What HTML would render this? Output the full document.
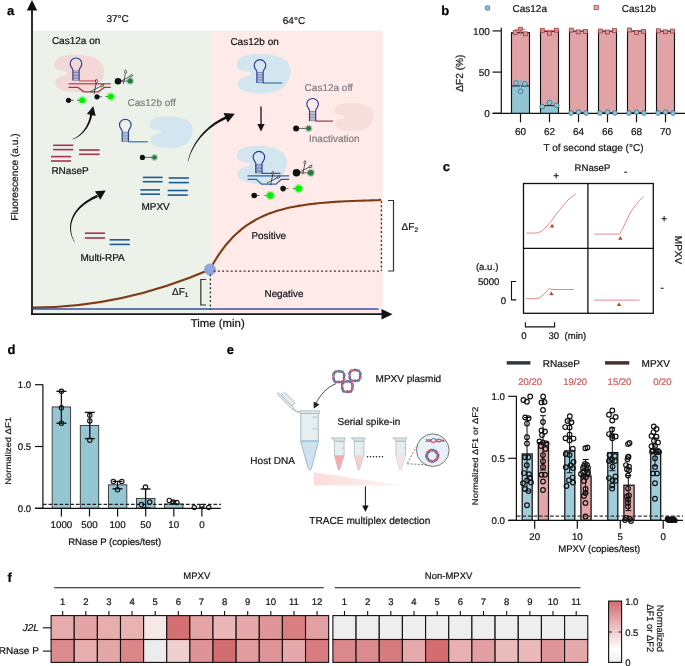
<!DOCTYPE html>
<html><head><meta charset="utf-8"><style>
html,body{margin:0;padding:0;background:#fff;width:685px;height:666px;overflow:hidden}
svg{display:block;will-change:transform;text-rendering:geometricPrecision}
text{font-family:"Liberation Sans",sans-serif}
</style></head><body>
<svg width="685" height="666" viewBox="0 0 685 666">
<rect x="33" y="30.6" width="178" height="282.6" fill="#ecf1ea" stroke="none" stroke-width="1" />
<rect x="211" y="30.6" width="171.7" height="282.6" fill="#feebe9" stroke="none" stroke-width="1" />
<path d="M0.2,0.03 C0.45,-0.02 0.8,-0.01 0.95,0.22 C1.04,0.4 1.0,0.7 0.85,0.86 C0.68,1.02 0.35,1.03 0.15,0.93 C0.02,0.85 0.0,0.72 0.08,0.62 C0.14,0.55 0.28,0.56 0.27,0.48 C0.26,0.41 0.1,0.45 0.04,0.37 C-0.02,0.27 0.02,0.08 0.2,0.03 Z" transform="translate(53.4,54.6) scale(50.800000000000004,37.9)" fill="#f4d8d5" opacity="1"/>
<path d="M72.90,80.60 V70.20 C72.90,68.40 70.20,67.00 70.20,63.80 A5.8,5.8 0 0 1 81.80,63.80 C81.80,67.00 79.10,68.40 79.10,70.20 V80.60" fill="none" stroke="#2b3d8f" stroke-width="1.15" />
<line x1="72.9" y1="71.0" x2="79.1" y2="71.0" stroke="#2b3d8f" stroke-width="0.55" />
<line x1="72.9" y1="72.53333333333333" x2="79.1" y2="72.53333333333333" stroke="#2b3d8f" stroke-width="0.55" />
<line x1="72.9" y1="74.06666666666666" x2="79.1" y2="74.06666666666666" stroke="#2b3d8f" stroke-width="0.55" />
<line x1="72.9" y1="75.6" x2="79.1" y2="75.6" stroke="#2b3d8f" stroke-width="0.55" />
<line x1="72.9" y1="77.13333333333333" x2="79.1" y2="77.13333333333333" stroke="#2b3d8f" stroke-width="0.55" />
<line x1="72.9" y1="78.66666666666666" x2="79.1" y2="78.66666666666666" stroke="#2b3d8f" stroke-width="0.55" />
<line x1="72.9" y1="80.19999999999999" x2="79.1" y2="80.19999999999999" stroke="#2b3d8f" stroke-width="0.55" />
<line x1="79" y1="80.9" x2="96" y2="80.9" stroke="#cf6473" stroke-width="1.3" />
<line x1="68.5" y1="83.8" x2="110.8" y2="83.8" stroke="#c9586c" stroke-width="1.4" />
<path d="M68.5,87.4 H78 L83.8,91.8 H98.4 L104.2,87.4 H110.8" fill="none" stroke="#a6344e" stroke-width="1.3" />
<g transform="translate(95.2,88.6) rotate(0) scale(1.0)" stroke="#222" fill="none" stroke-width="0.75"><line x1="1.0" y1="-5.6" x2="-1.1" y2="5.5"/><line x1="5.4" y1="-2.3" x2="-5.2" y2="3.3"/><ellipse cx="1.2" cy="-7.4" rx="0.95" ry="1.8" fill="#fff" fill-opacity="0.5"/><ellipse cx="7.1" cy="-3.1" rx="1.8" ry="1.0" transform="rotate(-28 7.1 -3.1)" fill="#fff" fill-opacity="0.5"/></g>
<line x1="68.5" y1="100.3" x2="73.69999999999999" y2="100.3" stroke="#444" stroke-width="0.8" />
<line x1="76.9" y1="100.3" x2="82.3" y2="100.3" stroke="#444" stroke-width="0.8" />
<circle cx="82.3" cy="100.3" r="4.4" fill="#00ee00" stroke="none" stroke-width="1" opacity="0.3"/>
<circle cx="82.3" cy="100.3" r="2.8" fill="#00ee00" stroke="none" stroke-width="1" />
<circle cx="68.5" cy="100.3" r="2.6" fill="#111" stroke="none" stroke-width="1" />
<line x1="97" y1="96.8" x2="102.19999999999999" y2="96.8" stroke="#444" stroke-width="0.8" />
<line x1="105.4" y1="96.6" x2="110.8" y2="96.6" stroke="#444" stroke-width="0.8" />
<circle cx="110.8" cy="96.6" r="4.4" fill="#00ee00" stroke="none" stroke-width="1" opacity="0.3"/>
<circle cx="110.8" cy="96.6" r="2.8" fill="#00ee00" stroke="none" stroke-width="1" />
<circle cx="97" cy="96.8" r="2.6" fill="#111" stroke="none" stroke-width="1" />
<line x1="118" y1="81.3" x2="130.2" y2="81" stroke="#555" stroke-width="0.9" />
<circle cx="130.2" cy="81" r="3.7" fill="#1f7a3c" stroke="none" stroke-width="1" opacity="0.3"/>
<circle cx="130.2" cy="81" r="2.5" fill="#1f7a3c" stroke="none" stroke-width="1" />
<circle cx="118" cy="81.3" r="3.3" fill="#111" stroke="none" stroke-width="1" />
<g transform="translate(124.4,78.8) rotate(0) scale(0.95)" stroke="#222" fill="none" stroke-width="0.75"><line x1="1.0" y1="-5.6" x2="-1.1" y2="5.5"/><line x1="5.4" y1="-2.3" x2="-5.2" y2="3.3"/><ellipse cx="1.2" cy="-7.4" rx="0.95" ry="1.8" fill="#fff" fill-opacity="0.5"/><ellipse cx="7.1" cy="-3.1" rx="1.8" ry="1.0" transform="rotate(-28 7.1 -3.1)" fill="#fff" fill-opacity="0.5"/></g>
<path d="M0.2,0.03 C0.45,-0.02 0.8,-0.01 0.95,0.22 C1.04,0.4 1.0,0.7 0.85,0.86 C0.68,1.02 0.35,1.03 0.15,0.93 C0.02,0.85 0.0,0.72 0.08,0.62 C0.14,0.55 0.28,0.56 0.27,0.48 C0.26,0.41 0.1,0.45 0.04,0.37 C-0.02,0.27 0.02,0.08 0.2,0.03 Z" transform="translate(149.1,116.3) scale(43.80000000000001,31.799999999999997)" fill="#d3e6ef" opacity="1"/>
<path d="M122.20,141.80 V131.40 C122.20,129.60 119.50,128.20 119.50,125.00 A5.8,5.8 0 0 1 131.10,125.00 C131.10,128.20 128.40,129.60 128.40,131.40 V141.80" fill="none" stroke="#2b3d8f" stroke-width="1.15" />
<line x1="122.2" y1="132.20000000000002" x2="128.4" y2="132.20000000000002" stroke="#2b3d8f" stroke-width="0.55" />
<line x1="122.2" y1="133.73333333333335" x2="128.4" y2="133.73333333333335" stroke="#2b3d8f" stroke-width="0.55" />
<line x1="122.2" y1="135.26666666666668" x2="128.4" y2="135.26666666666668" stroke="#2b3d8f" stroke-width="0.55" />
<line x1="122.2" y1="136.8" x2="128.4" y2="136.8" stroke="#2b3d8f" stroke-width="0.55" />
<line x1="122.2" y1="138.33333333333334" x2="128.4" y2="138.33333333333334" stroke="#2b3d8f" stroke-width="0.55" />
<line x1="122.2" y1="139.86666666666667" x2="128.4" y2="139.86666666666667" stroke="#2b3d8f" stroke-width="0.55" />
<line x1="122.2" y1="141.40000000000003" x2="128.4" y2="141.40000000000003" stroke="#2b3d8f" stroke-width="0.55" />
<line x1="128.2" y1="141.8" x2="147.7" y2="141.8" stroke="#3a72a8" stroke-width="1.2" />
<line x1="142.4" y1="157.4" x2="154.5" y2="157.4" stroke="#555" stroke-width="0.9" />
<circle cx="154.5" cy="157.4" r="3.4000000000000004" fill="#1f7a3c" stroke="none" stroke-width="1" opacity="0.3"/>
<circle cx="154.5" cy="157.4" r="2.2" fill="#1f7a3c" stroke="none" stroke-width="1" />
<circle cx="142.4" cy="157.4" r="2.6" fill="#111" stroke="none" stroke-width="1" />
<line x1="53.1" y1="145.3" x2="73.3" y2="145.3" stroke="#a6344e" stroke-width="1.6" />
<line x1="53.1" y1="149.6" x2="73.3" y2="149.6" stroke="#a6344e" stroke-width="1.6" />
<line x1="51" y1="156.6" x2="71.1" y2="156.6" stroke="#a6344e" stroke-width="1.6" />
<line x1="51" y1="161" x2="71.1" y2="161" stroke="#a6344e" stroke-width="1.6" />
<line x1="79.1" y1="150" x2="99.6" y2="150" stroke="#a6344e" stroke-width="1.6" />
<line x1="79.1" y1="154.3" x2="99.6" y2="154.3" stroke="#a6344e" stroke-width="1.6" />
<line x1="142.9" y1="177.4" x2="162.6" y2="177.4" stroke="#1b5a94" stroke-width="1.6" />
<line x1="142.9" y1="181.7" x2="162.6" y2="181.7" stroke="#1b5a94" stroke-width="1.6" />
<line x1="168.7" y1="178" x2="188.9" y2="178" stroke="#1b5a94" stroke-width="1.6" />
<line x1="168.7" y1="182.6" x2="188.9" y2="182.6" stroke="#1b5a94" stroke-width="1.6" />
<line x1="140.3" y1="189.9" x2="160" y2="189.9" stroke="#1b5a94" stroke-width="1.6" />
<line x1="140.3" y1="194.2" x2="160" y2="194.2" stroke="#1b5a94" stroke-width="1.6" />
<line x1="167.7" y1="190.5" x2="187.8" y2="190.5" stroke="#1b5a94" stroke-width="1.6" />
<line x1="167.7" y1="195.1" x2="187.8" y2="195.1" stroke="#1b5a94" stroke-width="1.6" />
<line x1="84.9" y1="233.2" x2="105" y2="233.2" stroke="#a6344e" stroke-width="1.6" />
<line x1="84.9" y1="238" x2="105" y2="238" stroke="#a6344e" stroke-width="1.6" />
<line x1="109.6" y1="239.8" x2="129.8" y2="239.8" stroke="#1b5a94" stroke-width="1.6" />
<line x1="109.6" y1="244.4" x2="129.8" y2="244.4" stroke="#1b5a94" stroke-width="1.6" />
<polygon points="72.45,139.29 73.04,139.14 73.63,138.96 74.23,138.76 74.83,138.53 75.44,138.27 76.04,137.99 76.65,137.68 77.26,137.35 77.87,136.99 78.48,136.61 79.09,136.20 79.69,135.77 80.29,135.31 80.89,134.83 81.49,134.32 82.07,133.79 82.65,133.23 83.23,132.65 83.79,132.05 84.35,131.42 84.90,130.78 85.44,130.10 85.97,129.41 86.48,128.69 86.98,127.94 87.47,127.18 87.95,126.39 88.41,125.58 88.86,124.75 89.28,123.90 89.69,123.02 90.09,122.12 90.46,121.20 90.82,120.26 91.15,119.30 91.46,118.32 91.75,117.32 92.02,116.29 92.26,115.25 92.48,114.19 90.32,113.81 90.15,114.83 89.96,115.83 89.75,116.81 89.52,117.78 89.26,118.72 88.99,119.65 88.69,120.56 88.38,121.45 88.04,122.32 87.69,123.17 87.32,124.00 86.94,124.82 86.54,125.61 86.12,126.38 85.69,127.14 85.25,127.87 84.79,128.58 84.32,129.28 83.84,129.95 83.35,130.60 82.85,131.23 82.33,131.84 81.82,132.43 81.29,132.99 80.75,133.53 80.21,134.05 79.66,134.55 79.11,135.03 78.55,135.48 77.99,135.91 77.43,136.32 76.87,136.70 76.30,137.06 75.73,137.40 75.16,137.71 74.60,138.00 74.03,138.26 73.47,138.50 72.90,138.72 72.35,138.91" fill="#111"/>
<polygon points="93.3,106.1 95.7,115.9 86.9,113.9" fill="#111"/>
<polygon points="74.77,241.90 74.18,240.83 73.63,239.74 73.13,238.64 72.69,237.52 72.29,236.39 71.95,235.24 71.67,234.08 71.43,232.91 71.25,231.74 71.13,230.55 71.06,229.36 71.06,228.16 71.11,226.95 71.22,225.75 71.38,224.54 71.61,223.33 71.91,222.12 72.26,220.92 72.68,219.71 73.16,218.51 73.71,217.32 74.32,216.13 75.00,214.95 75.75,213.78 76.57,212.62 77.46,211.46 78.43,210.32 79.46,209.19 80.57,208.08 81.75,206.98 83.01,205.90 84.35,204.83 85.77,203.79 87.27,202.76 88.84,201.76 90.50,200.77 92.24,199.82 94.07,198.88 95.98,197.98 97.98,197.10 97.02,194.90 94.98,195.85 93.03,196.83 91.17,197.84 89.39,198.88 87.69,199.94 86.08,201.02 84.56,202.13 83.11,203.26 81.75,204.41 80.47,205.58 79.26,206.77 78.14,207.97 77.09,209.19 76.12,210.42 75.23,211.66 74.41,212.91 73.67,214.17 72.99,215.44 72.39,216.71 71.86,217.99 71.41,219.26 71.01,220.54 70.69,221.82 70.44,223.10 70.25,224.37 70.12,225.64 70.06,226.91 70.06,228.16 70.12,229.40 70.24,230.64 70.41,231.86 70.65,233.07 70.94,234.26 71.28,235.44 71.68,236.60 72.13,237.74 72.63,238.87 73.18,239.97 73.78,241.05 74.43,242.10" fill="#111"/>
<polygon points="105.7,190.5 100.3,199.7 95.0,191.2" fill="#111"/>
<polygon points="188.09,161.84 188.44,160.52 188.83,159.21 189.24,157.89 189.69,156.59 190.17,155.29 190.68,154.00 191.23,152.71 191.81,151.44 192.42,150.17 193.06,148.91 193.74,147.67 194.44,146.43 195.18,145.21 195.95,143.99 196.76,142.79 197.59,141.60 198.46,140.43 199.36,139.27 200.29,138.12 201.25,136.99 202.24,135.88 203.27,134.78 204.32,133.70 205.41,132.64 206.53,131.59 207.68,130.57 208.86,129.56 210.07,128.57 211.32,127.61 212.59,126.66 213.90,125.74 215.23,124.84 216.60,123.96 218.00,123.10 219.43,122.27 220.89,121.46 222.38,120.68 223.90,119.92 225.45,119.19 227.03,118.48 225.97,116.12 224.36,116.89 222.78,117.70 221.23,118.53 219.72,119.38 218.25,120.27 216.80,121.17 215.39,122.10 214.01,123.05 212.67,124.03 211.36,125.02 210.08,126.04 208.84,127.08 207.63,128.13 206.45,129.21 205.31,130.30 204.20,131.42 203.12,132.55 202.08,133.69 201.07,134.85 200.10,136.03 199.16,137.22 198.25,138.43 197.38,139.64 196.54,140.88 195.73,142.12 194.96,143.37 194.22,144.64 193.52,145.91 192.85,147.20 192.21,148.49 191.61,149.79 191.04,151.10 190.51,152.41 190.00,153.73 189.54,155.06 189.10,156.39 188.70,157.73 188.34,159.07 188.00,160.41 187.71,161.76" fill="#111"/>
<polygon points="234.8,113.7 227.7,122.5 223.6,113.0" fill="#111"/>
<line x1="261" y1="106.6" x2="261" y2="125" stroke="#111" stroke-width="1.3" />
<polygon points="261.0,131.4 257.4,123.9 264.6,123.9" fill="#111"/>
<path d="M0.2,0.03 C0.45,-0.02 0.8,-0.01 0.95,0.22 C1.04,0.4 1.0,0.7 0.85,0.86 C0.68,1.02 0.35,1.03 0.15,0.93 C0.02,0.85 0.0,0.72 0.08,0.62 C0.14,0.55 0.28,0.56 0.27,0.48 C0.26,0.41 0.1,0.45 0.04,0.37 C-0.02,0.27 0.02,0.08 0.2,0.03 Z" transform="translate(236,53.8) scale(54.69999999999999,40.10000000000001)" fill="#d3e6ef" opacity="1"/>
<path d="M256.90,83.00 V71.80 C256.90,70.00 254.20,68.60 254.20,65.40 A5.8,5.8 0 0 1 265.80,65.40 C265.80,68.60 263.10,70.00 263.10,71.80 V83.00" fill="none" stroke="#2b3d8f" stroke-width="1.15" />
<line x1="256.9" y1="72.60000000000001" x2="263.1" y2="72.60000000000001" stroke="#2b3d8f" stroke-width="0.55" />
<line x1="256.9" y1="74.26666666666668" x2="263.1" y2="74.26666666666668" stroke="#2b3d8f" stroke-width="0.55" />
<line x1="256.9" y1="75.93333333333334" x2="263.1" y2="75.93333333333334" stroke="#2b3d8f" stroke-width="0.55" />
<line x1="256.9" y1="77.60000000000001" x2="263.1" y2="77.60000000000001" stroke="#2b3d8f" stroke-width="0.55" />
<line x1="256.9" y1="79.26666666666667" x2="263.1" y2="79.26666666666667" stroke="#2b3d8f" stroke-width="0.55" />
<line x1="256.9" y1="80.93333333333334" x2="263.1" y2="80.93333333333334" stroke="#2b3d8f" stroke-width="0.55" />
<line x1="256.9" y1="82.6" x2="263.1" y2="82.6" stroke="#2b3d8f" stroke-width="0.55" />
<line x1="263" y1="83" x2="282.2" y2="83" stroke="#3a72a8" stroke-width="1.2" />
<path d="M0.2,0.03 C0.45,-0.02 0.8,-0.01 0.95,0.22 C1.04,0.4 1.0,0.7 0.85,0.86 C0.68,1.02 0.35,1.03 0.15,0.93 C0.02,0.85 0.0,0.72 0.08,0.62 C0.14,0.55 0.28,0.56 0.27,0.48 C0.26,0.41 0.1,0.45 0.04,0.37 C-0.02,0.27 0.02,0.08 0.2,0.03 Z" transform="translate(333.8,102.8) scale(40.19999999999999,28.500000000000014)" fill="#f5dedb" opacity="1"/>
<path d="M309.50,121.10 V110.70 C309.50,108.90 306.80,107.50 306.80,104.30 A5.8,5.8 0 0 1 318.40,104.30 C318.40,107.50 315.70,108.90 315.70,110.70 V121.10" fill="none" stroke="#2b3d8f" stroke-width="1.15" />
<line x1="309.5" y1="111.5" x2="315.70000000000005" y2="111.5" stroke="#2b3d8f" stroke-width="0.55" />
<line x1="309.5" y1="113.03333333333333" x2="315.70000000000005" y2="113.03333333333333" stroke="#2b3d8f" stroke-width="0.55" />
<line x1="309.5" y1="114.56666666666666" x2="315.70000000000005" y2="114.56666666666666" stroke="#2b3d8f" stroke-width="0.55" />
<line x1="309.5" y1="116.1" x2="315.70000000000005" y2="116.1" stroke="#2b3d8f" stroke-width="0.55" />
<line x1="309.5" y1="117.63333333333333" x2="315.70000000000005" y2="117.63333333333333" stroke="#2b3d8f" stroke-width="0.55" />
<line x1="309.5" y1="119.16666666666666" x2="315.70000000000005" y2="119.16666666666666" stroke="#2b3d8f" stroke-width="0.55" />
<line x1="309.5" y1="120.69999999999999" x2="315.70000000000005" y2="120.69999999999999" stroke="#2b3d8f" stroke-width="0.55" />
<line x1="315.5" y1="121.1" x2="333" y2="121.1" stroke="#a6344e" stroke-width="1.2" />
<line x1="296.1" y1="128.4" x2="308.7" y2="128.4" stroke="#555" stroke-width="0.9" />
<circle cx="308.7" cy="128.4" r="3.5999999999999996" fill="#1f7a3c" stroke="none" stroke-width="1" opacity="0.3"/>
<circle cx="308.7" cy="128.4" r="2.4" fill="#1f7a3c" stroke="none" stroke-width="1" />
<circle cx="296.1" cy="128.4" r="3" fill="#111" stroke="none" stroke-width="1" />
<path d="M0.2,0.03 C0.45,-0.02 0.8,-0.01 0.95,0.22 C1.04,0.4 1.0,0.7 0.85,0.86 C0.68,1.02 0.35,1.03 0.15,0.93 C0.02,0.85 0.0,0.72 0.08,0.62 C0.14,0.55 0.28,0.56 0.27,0.48 C0.26,0.41 0.1,0.45 0.04,0.37 C-0.02,0.27 0.02,0.08 0.2,0.03 Z" transform="translate(236,145.8) scale(51,38.0)" fill="#d3e6ef" opacity="1"/>
<path d="M255.80,173.30 V163.60 C255.80,161.80 253.10,160.40 253.10,157.20 A5.8,5.8 0 0 1 264.70,157.20 C264.70,160.40 262.00,161.80 262.00,163.60 V173.30" fill="none" stroke="#2b3d8f" stroke-width="1.15" />
<line x1="255.79999999999998" y1="164.4" x2="262.0" y2="164.4" stroke="#2b3d8f" stroke-width="0.55" />
<line x1="255.79999999999998" y1="165.81666666666666" x2="262.0" y2="165.81666666666666" stroke="#2b3d8f" stroke-width="0.55" />
<line x1="255.79999999999998" y1="167.23333333333335" x2="262.0" y2="167.23333333333335" stroke="#2b3d8f" stroke-width="0.55" />
<line x1="255.79999999999998" y1="168.65" x2="262.0" y2="168.65" stroke="#2b3d8f" stroke-width="0.55" />
<line x1="255.79999999999998" y1="170.0666666666667" x2="262.0" y2="170.0666666666667" stroke="#2b3d8f" stroke-width="0.55" />
<line x1="255.79999999999998" y1="171.48333333333335" x2="262.0" y2="171.48333333333335" stroke="#2b3d8f" stroke-width="0.55" />
<line x1="255.79999999999998" y1="172.90000000000003" x2="262.0" y2="172.90000000000003" stroke="#2b3d8f" stroke-width="0.55" />
<line x1="261.5" y1="173.3" x2="280.5" y2="173.3" stroke="#2b3d8f" stroke-width="1.1" />
<line x1="247.6" y1="175.8" x2="289.2" y2="175.8" stroke="#2f62a4" stroke-width="1.3" />
<path d="M247.6,179.4 H256.4 L261.5,184.2 H276 L281.2,179.4 H289.2" fill="none" stroke="#2f62a4" stroke-width="1.3" />
<g transform="translate(271.7,180.1) rotate(0) scale(0.95)" stroke="#222" fill="none" stroke-width="0.75"><line x1="1.0" y1="-5.6" x2="-1.1" y2="5.5"/><line x1="5.4" y1="-2.3" x2="-5.2" y2="3.3"/><ellipse cx="1.2" cy="-7.4" rx="0.95" ry="1.8" fill="#fff" fill-opacity="0.5"/><ellipse cx="7.1" cy="-3.1" rx="1.8" ry="1.0" transform="rotate(-28 7.1 -3.1)" fill="#fff" fill-opacity="0.5"/></g>
<line x1="296.5" y1="172.8" x2="310.8" y2="172.8" stroke="#555" stroke-width="0.9" />
<circle cx="310.8" cy="172.8" r="4.0" fill="#1f7a3c" stroke="none" stroke-width="1" opacity="0.3"/>
<circle cx="310.8" cy="172.8" r="2.8" fill="#1f7a3c" stroke="none" stroke-width="1" />
<circle cx="296.5" cy="172.8" r="3.8" fill="#111" stroke="none" stroke-width="1" />
<g transform="translate(303.8,169.4) rotate(0) scale(0.95)" stroke="#222" fill="none" stroke-width="0.75"><line x1="1.0" y1="-5.6" x2="-1.1" y2="5.5"/><line x1="5.4" y1="-2.3" x2="-5.2" y2="3.3"/><ellipse cx="1.2" cy="-7.4" rx="0.95" ry="1.8" fill="#fff" fill-opacity="0.5"/><ellipse cx="7.1" cy="-3.1" rx="1.8" ry="1.0" transform="rotate(-28 7.1 -3.1)" fill="#fff" fill-opacity="0.5"/></g>
<line x1="283.1" y1="188.6" x2="288.50000000000006" y2="188.6" stroke="#444" stroke-width="0.8" />
<line x1="292.9" y1="188.6" x2="298.7" y2="188.6" stroke="#444" stroke-width="0.8" />
<circle cx="298.7" cy="188.6" r="4.800000000000001" fill="#00ee00" stroke="none" stroke-width="1" opacity="0.3"/>
<circle cx="298.7" cy="188.6" r="3.2" fill="#00ee00" stroke="none" stroke-width="1" />
<circle cx="283.1" cy="188.6" r="2.8" fill="#111" stroke="none" stroke-width="1" />
<line x1="254.2" y1="195.5" x2="259.6" y2="195.5" stroke="#444" stroke-width="0.8" />
<line x1="264.5" y1="195.5" x2="270.3" y2="195.5" stroke="#444" stroke-width="0.8" />
<circle cx="270.3" cy="195.5" r="4.800000000000001" fill="#00ee00" stroke="none" stroke-width="1" opacity="0.3"/>
<circle cx="270.3" cy="195.5" r="3.2" fill="#00ee00" stroke="none" stroke-width="1" />
<circle cx="254.2" cy="195.5" r="2.8" fill="#111" stroke="none" stroke-width="1" />
<path d="M33,307.6 Q121.5,307.6 210,269.5" fill="none" stroke="#7e3c16" stroke-width="2.1" />
<path d="M210.00,269.50 C210.50,268.59 212.00,265.79 213.00,264.05 C214.00,262.30 215.00,260.63 216.00,259.02 C217.00,257.41 218.00,255.87 219.00,254.39 C220.00,252.90 221.00,251.48 222.00,250.11 C223.00,248.74 224.00,247.43 225.00,246.17 C226.00,244.91 227.00,243.70 228.00,242.53 C229.00,241.37 230.00,240.26 231.00,239.18 C232.00,238.11 233.00,237.08 234.00,236.09 C235.00,235.10 236.00,234.16 237.00,233.24 C238.00,232.33 239.00,231.46 240.00,230.61 C241.00,229.77 242.00,228.97 243.00,228.19 C244.00,227.42 245.00,226.67 246.00,225.96 C247.00,225.24 248.00,224.56 249.00,223.90 C250.00,223.24 251.00,222.61 252.00,222.00 C253.00,221.39 254.00,220.81 255.00,220.24 C256.00,219.68 257.00,219.15 258.00,218.63 C259.00,218.11 260.00,217.62 261.00,217.14 C262.00,216.66 263.00,216.21 264.00,215.77 C265.00,215.33 266.00,214.90 267.00,214.50 C268.00,214.09 269.00,213.70 270.00,213.33 C271.00,212.96 272.00,212.60 273.00,212.25 C274.00,211.91 275.00,211.58 276.00,211.26 C277.00,210.94 278.00,210.64 279.00,210.34 C280.00,210.05 281.00,209.77 282.00,209.50 C283.00,209.23 284.00,208.97 285.00,208.72 C286.00,208.47 287.00,208.23 288.00,208.00 C289.00,207.77 290.00,207.55 291.00,207.34 C292.00,207.13 293.00,206.93 294.00,206.73 C295.00,206.53 296.00,206.35 297.00,206.17 C298.00,205.99 299.00,205.81 300.00,205.65 C301.00,205.48 302.00,205.32 303.00,205.17 C304.00,205.02 305.00,204.87 306.00,204.73 C307.00,204.59 308.00,204.45 309.00,204.32 C310.00,204.19 311.00,204.07 312.00,203.94 C313.00,203.82 314.00,203.71 315.00,203.60 C316.00,203.49 317.00,203.38 318.00,203.28 C319.00,203.18 320.00,203.08 321.00,202.99 C322.00,202.89 323.00,202.80 324.00,202.71 C325.00,202.63 326.00,202.54 327.00,202.46 C328.00,202.38 329.00,202.31 330.00,202.23 C331.00,202.16 332.00,202.09 333.00,202.02 C334.00,201.95 335.00,201.89 336.00,201.82 C337.00,201.76 338.00,201.70 339.00,201.64 C340.00,201.58 341.00,201.53 342.00,201.48 C343.00,201.42 344.00,201.37 345.00,201.32 C346.00,201.27 347.00,201.23 348.00,201.18 C349.00,201.13 350.00,201.09 351.00,201.05 C352.00,201.01 353.00,200.97 354.00,200.93 C355.00,200.89 356.00,200.85 357.00,200.82 C358.00,200.78 359.00,200.75 360.00,200.71 C361.00,200.68 362.00,200.65 363.00,200.62 C364.00,200.59 365.00,200.56 366.00,200.53 C367.00,200.50 368.00,200.48 369.00,200.45 C370.00,200.43 371.00,200.40 372.00,200.38 C373.00,200.35 374.00,200.33 375.00,200.31 C376.00,200.29 376.97,200.35 378.00,200.25 C379.03,200.15 380.67,199.79 381.20,199.70" fill="none" stroke="#7e3c16" stroke-width="2.1" />
<line x1="33" y1="309" x2="378.6" y2="309" stroke="#3b4f9e" stroke-width="1.5" />
<circle cx="210" cy="269.5" r="5.9" fill="#8ea6d9" stroke="none" stroke-width="1" />
<line x1="213.5" y1="271.2" x2="381.3" y2="271.2" stroke="#333" stroke-width="1.3" stroke-dasharray="2,2.3"/>
<line x1="210.4" y1="274.3" x2="210.4" y2="310" stroke="#333" stroke-width="1.3" stroke-dasharray="2,2.3"/>
<line x1="381.4" y1="201" x2="381.4" y2="271" stroke="#333" stroke-width="1.3" stroke-dasharray="2,2.3"/>
<path d="M206,279.5 H200.8 V305 H206" fill="none" stroke="#333" stroke-width="1.2" />
<path d="M388,200.5 H393.5 V271 H388" fill="none" stroke="#333" stroke-width="1.2" />
<line x1="32" y1="9" x2="32" y2="315" stroke="#151515" stroke-width="1.8" />
<polygon points="32,0 26.8,10.5 37.2,10.5" fill="#111"/>
<line x1="31" y1="314.2" x2="383" y2="314.2" stroke="#151515" stroke-width="1.8" />
<polygon points="392.5,314.2 381.5,309 381.5,319.4" fill="#111"/>
<text x="7" y="14.8" font-size="13" fill="#000" stroke="#000" stroke-width="0.22" font-weight="bold" >a</text>
<text x="106.5" y="21.8" font-size="10" fill="#141414" stroke="#141414" stroke-width="0.22" >37°C</text>
<text x="282.8" y="23.8" font-size="10" fill="#141414" stroke="#141414" stroke-width="0.22" >64°C</text>
<text x="51.9" y="43.8" font-size="10" fill="#141414" stroke="#141414" stroke-width="0.22" >Cas12a on</text>
<text x="230.4" y="45" font-size="10" fill="#141414" stroke="#141414" stroke-width="0.22" >Cas12b on</text>
<text x="127.5" y="106.4" font-size="10" fill="#808080" stroke="#808080" stroke-width="0.22" >Cas12b off</text>
<text x="304.6" y="91.2" font-size="10" fill="#808080" stroke="#808080" stroke-width="0.22" >Cas12a off</text>
<text x="309" y="141.6" font-size="10" fill="#808080" stroke="#808080" stroke-width="0.22" >Inactivation</text>
<text x="51.4" y="174.1" font-size="10" fill="#141414" stroke="#141414" stroke-width="0.22" >RNaseP</text>
<text x="141.4" y="209.6" font-size="10" fill="#141414" stroke="#141414" stroke-width="0.22" >MPXV</text>
<text x="80.5" y="260.6" font-size="10" fill="#141414" stroke="#141414" stroke-width="0.22" >Multi-RPA</text>
<text x="251.5" y="238.9" font-size="9.9" fill="#141414" stroke="#141414" stroke-width="0.22" >Positive</text>
<text x="264.5" y="296.7" font-size="9.9" fill="#141414" stroke="#141414" stroke-width="0.22" >Negative</text>
<text x="190.7" y="327.3" font-size="11.4" fill="#141414" stroke="#141414" stroke-width="0.22" >Time (min)</text>
<text x="172" y="295.4" font-size="10" fill="#141414" stroke="#141414" stroke-width="0.22" >ΔF<tspan font-size="6.5" dy="1.5">1</tspan></text>
<text x="401.6" y="230" font-size="10" fill="#141414" stroke="#141414" stroke-width="0.22" >ΔF<tspan font-size="6.5" dy="1.5">2</tspan></text>
<text transform="translate(18.3,177.1) rotate(-90)" font-size="10" fill="#1a1a1a" stroke="#1a1a1a" stroke-width="0.22" text-anchor="middle" textLength="87.4" lengthAdjust="spacingAndGlyphs">Fluorescence (a.u.)</text>
<text x="441.2" y="14.8" font-size="13" fill="#000" stroke="#000" stroke-width="0.22" font-weight="bold" >b</text>
<circle cx="487.5" cy="8" r="2.4" fill="#8cc4d4" stroke="#2a6a86" stroke-width="0.7" />
<text x="512.5" y="11.8" font-size="10" fill="#141414" stroke="#141414" stroke-width="0.22" >Cas12a</text>
<rect x="594" y="5.2" width="4.6" height="4.6" fill="#e1a3a5" stroke="#8a3a3a" stroke-width="0.6" />
<text x="621.7" y="11.8" font-size="10" fill="#141414" stroke="#141414" stroke-width="0.22" >Cas12b</text>
<line x1="501.3" y1="27.8" x2="501.3" y2="113.3" stroke="#111" stroke-width="1.2" />
<line x1="492.6" y1="30.9" x2="501.3" y2="30.9" stroke="#111" stroke-width="1.2" />
<text x="489.8" y="34.699999999999996" font-size="10" fill="#141414" stroke="#141414" stroke-width="0.22" text-anchor="end" >100</text>
<line x1="492.6" y1="72.1" x2="501.3" y2="72.1" stroke="#111" stroke-width="1.2" />
<text x="489.8" y="75.89999999999999" font-size="10" fill="#141414" stroke="#141414" stroke-width="0.22" text-anchor="end" >50</text>
<line x1="492.6" y1="113.3" x2="501.3" y2="113.3" stroke="#111" stroke-width="1.2" />
<text x="489.8" y="117.1" font-size="10" fill="#141414" stroke="#141414" stroke-width="0.22" text-anchor="end" >0</text>
<line x1="492.6" y1="113.3" x2="685" y2="113.3" stroke="#111" stroke-width="1.2" />
<rect x="511.5" y="32.7128" width="18" height="80.5872" fill="#e1a3a5" stroke="none" stroke-width="1" />
<rect x="511.5" y="85.94319999999999" width="18" height="27.356800000000007" fill="#93c4d3" stroke="none" stroke-width="1" />
<line x1="511.5" y1="85.94319999999999" x2="529.5" y2="85.94319999999999" stroke="#111" stroke-width="1" />
<rect x="511.5" y="32.7128" width="18" height="80.5872" fill="none" stroke="#111" stroke-width="1.1" />
<line x1="520.5" y1="113.3" x2="520.5" y2="122.3" stroke="#111" stroke-width="1.2" />
<text x="520.5" y="134.7" font-size="10" fill="#141414" stroke="#141414" stroke-width="0.22" text-anchor="middle" >60</text>
<rect x="540.5" y="31.229600000000005" width="18" height="82.07039999999999" fill="#e1a3a5" stroke="none" stroke-width="1" />
<rect x="540.5" y="105.6368" width="18" height="7.663200000000003" fill="#93c4d3" stroke="none" stroke-width="1" />
<line x1="540.5" y1="105.6368" x2="558.5" y2="105.6368" stroke="#111" stroke-width="1" />
<rect x="540.5" y="31.229600000000005" width="18" height="82.07039999999999" fill="none" stroke="#111" stroke-width="1.1" />
<line x1="549.5" y1="113.3" x2="549.5" y2="122.3" stroke="#111" stroke-width="1.2" />
<text x="549.5" y="134.7" font-size="10" fill="#141414" stroke="#141414" stroke-width="0.22" text-anchor="middle" >62</text>
<rect x="569.5" y="31.064800000000005" width="18" height="82.23519999999999" fill="#e1a3a5" stroke="none" stroke-width="1" />
<rect x="569.5" y="112.88799999999999" width="18" height="0.41200000000000614" fill="#93c4d3" stroke="none" stroke-width="1" />
<line x1="569.5" y1="112.88799999999999" x2="587.5" y2="112.88799999999999" stroke="#111" stroke-width="1" />
<rect x="569.5" y="31.064800000000005" width="18" height="82.23519999999999" fill="none" stroke="#111" stroke-width="1.1" />
<line x1="578.5" y1="113.3" x2="578.5" y2="122.3" stroke="#111" stroke-width="1.2" />
<text x="578.5" y="134.7" font-size="10" fill="#141414" stroke="#141414" stroke-width="0.22" text-anchor="middle" >64</text>
<rect x="598.5" y="31.064800000000005" width="18" height="82.23519999999999" fill="#e1a3a5" stroke="none" stroke-width="1" />
<rect x="598.5" y="112.88799999999999" width="18" height="0.41200000000000614" fill="#93c4d3" stroke="none" stroke-width="1" />
<line x1="598.5" y1="112.88799999999999" x2="616.5" y2="112.88799999999999" stroke="#111" stroke-width="1" />
<rect x="598.5" y="31.064800000000005" width="18" height="82.23519999999999" fill="none" stroke="#111" stroke-width="1.1" />
<line x1="607.5" y1="113.3" x2="607.5" y2="122.3" stroke="#111" stroke-width="1.2" />
<text x="607.5" y="134.7" font-size="10" fill="#141414" stroke="#141414" stroke-width="0.22" text-anchor="middle" >66</text>
<rect x="627.5" y="31.064800000000005" width="18" height="82.23519999999999" fill="#e1a3a5" stroke="none" stroke-width="1" />
<rect x="627.5" y="112.88799999999999" width="18" height="0.41200000000000614" fill="#93c4d3" stroke="none" stroke-width="1" />
<line x1="627.5" y1="112.88799999999999" x2="645.5" y2="112.88799999999999" stroke="#111" stroke-width="1" />
<rect x="627.5" y="31.064800000000005" width="18" height="82.23519999999999" fill="none" stroke="#111" stroke-width="1.1" />
<line x1="636.5" y1="113.3" x2="636.5" y2="122.3" stroke="#111" stroke-width="1.2" />
<text x="636.5" y="134.7" font-size="10" fill="#141414" stroke="#141414" stroke-width="0.22" text-anchor="middle" >68</text>
<rect x="656.5" y="31.064800000000005" width="18" height="82.23519999999999" fill="#e1a3a5" stroke="none" stroke-width="1" />
<rect x="656.5" y="112.88799999999999" width="18" height="0.41200000000000614" fill="#93c4d3" stroke="none" stroke-width="1" />
<line x1="656.5" y1="112.88799999999999" x2="674.5" y2="112.88799999999999" stroke="#111" stroke-width="1" />
<rect x="656.5" y="31.064800000000005" width="18" height="82.23519999999999" fill="none" stroke="#111" stroke-width="1.1" />
<line x1="665.5" y1="113.3" x2="665.5" y2="122.3" stroke="#111" stroke-width="1.2" />
<text x="665.5" y="134.7" font-size="10" fill="#141414" stroke="#141414" stroke-width="0.22" text-anchor="middle" >70</text>
<rect x="513.2" y="30.6" width="4" height="4" fill="#dc9496" stroke="#8c3a3c" stroke-width="0.7" />
<rect x="518.6" y="27.2" width="4" height="4" fill="#dc9496" stroke="#8c3a3c" stroke-width="0.7" />
<rect x="523.5" y="31.799999999999997" width="4" height="4" fill="#dc9496" stroke="#8c3a3c" stroke-width="0.7" />
<rect x="540.3" y="28.6" width="4" height="4" fill="#dc9496" stroke="#8c3a3c" stroke-width="0.7" />
<rect x="547.3" y="31.200000000000003" width="4" height="4" fill="#dc9496" stroke="#8c3a3c" stroke-width="0.7" />
<rect x="554.3" y="28.2" width="4" height="4" fill="#dc9496" stroke="#8c3a3c" stroke-width="0.7" />
<rect x="569.3" y="28.1" width="4" height="4" fill="#dc9496" stroke="#8c3a3c" stroke-width="0.7" />
<rect x="576.2" y="29.9" width="4" height="4" fill="#dc9496" stroke="#8c3a3c" stroke-width="0.7" />
<rect x="583.5" y="29.4" width="4" height="4" fill="#dc9496" stroke="#8c3a3c" stroke-width="0.7" />
<rect x="598.3" y="29" width="4" height="4" fill="#dc9496" stroke="#8c3a3c" stroke-width="0.7" />
<rect x="605.3" y="30" width="4" height="4" fill="#dc9496" stroke="#8c3a3c" stroke-width="0.7" />
<rect x="612.6" y="28.6" width="4" height="4" fill="#dc9496" stroke="#8c3a3c" stroke-width="0.7" />
<rect x="627.5" y="28.0" width="4" height="4" fill="#dc9496" stroke="#8c3a3c" stroke-width="0.7" />
<rect x="634.3" y="30.4" width="4" height="4" fill="#dc9496" stroke="#8c3a3c" stroke-width="0.7" />
<rect x="641.5" y="29.3" width="4" height="4" fill="#dc9496" stroke="#8c3a3c" stroke-width="0.7" />
<rect x="656.4" y="28.8" width="4" height="4" fill="#dc9496" stroke="#8c3a3c" stroke-width="0.7" />
<rect x="663.4" y="29.8" width="4" height="4" fill="#dc9496" stroke="#8c3a3c" stroke-width="0.7" />
<rect x="670.6" y="29.1" width="4" height="4" fill="#dc9496" stroke="#8c3a3c" stroke-width="0.7" />
<line x1="520.6" y1="80.9" x2="520.6" y2="90.5" stroke="#7fb6c8" stroke-width="1" />
<line x1="517.5" y1="80.9" x2="523.7" y2="80.9" stroke="#7fb6c8" stroke-width="1" />
<line x1="545" y1="102.9" x2="555" y2="102.9" stroke="#7fb6c8" stroke-width="1" />
<line x1="515" y1="29.4" x2="525.5" y2="29.4" stroke="#e06060" stroke-width="0.9" />
<line x1="520.5" y1="29.4" x2="520.5" y2="35" stroke="#e06060" stroke-width="0.9" />
<line x1="541" y1="30.3" x2="557" y2="30.3" stroke="#e06060" stroke-width="0.9" />
<circle cx="516.1" cy="83" r="2.4" fill="#8cc4d4" stroke="#2a6a86" stroke-width="0.7" />
<circle cx="524.9" cy="83.8" r="2.4" fill="#8cc4d4" stroke="#2a6a86" stroke-width="0.7" />
<circle cx="520.6" cy="91.3" r="2.4" fill="#8cc4d4" stroke="#2a6a86" stroke-width="0.7" />
<circle cx="542.3" cy="106.6" r="2.4" fill="#8cc4d4" stroke="#2a6a86" stroke-width="0.7" />
<circle cx="549.5" cy="102.6" r="2.4" fill="#8cc4d4" stroke="#2a6a86" stroke-width="0.7" />
<circle cx="556.7" cy="105.4" r="2.4" fill="#8cc4d4" stroke="#2a6a86" stroke-width="0.7" />
<circle cx="571.0" cy="113" r="2.4" fill="#8cc4d4" stroke="#2a6a86" stroke-width="0.7" />
<circle cx="578.5" cy="112.2" r="2.4" fill="#8cc4d4" stroke="#2a6a86" stroke-width="0.7" />
<circle cx="586.0" cy="113" r="2.4" fill="#8cc4d4" stroke="#2a6a86" stroke-width="0.7" />
<circle cx="600.0" cy="113" r="2.4" fill="#8cc4d4" stroke="#2a6a86" stroke-width="0.7" />
<circle cx="607.5" cy="112.2" r="2.4" fill="#8cc4d4" stroke="#2a6a86" stroke-width="0.7" />
<circle cx="615.0" cy="113" r="2.4" fill="#8cc4d4" stroke="#2a6a86" stroke-width="0.7" />
<circle cx="629.0" cy="113" r="2.4" fill="#8cc4d4" stroke="#2a6a86" stroke-width="0.7" />
<circle cx="636.5" cy="112.2" r="2.4" fill="#8cc4d4" stroke="#2a6a86" stroke-width="0.7" />
<circle cx="644.0" cy="113" r="2.4" fill="#8cc4d4" stroke="#2a6a86" stroke-width="0.7" />
<circle cx="658.0" cy="113" r="2.4" fill="#8cc4d4" stroke="#2a6a86" stroke-width="0.7" />
<circle cx="665.5" cy="112.2" r="2.4" fill="#8cc4d4" stroke="#2a6a86" stroke-width="0.7" />
<circle cx="673.0" cy="113" r="2.4" fill="#8cc4d4" stroke="#2a6a86" stroke-width="0.7" />
<text transform="translate(463.4,73.2) rotate(-90)" font-size="10.2" fill="#1a1a1a" stroke="#1a1a1a" stroke-width="0.22" text-anchor="middle" textLength="37.3" lengthAdjust="spacingAndGlyphs">ΔF2 (%)</text>
<text x="543.5" y="150.7" font-size="10" fill="#141414" stroke="#141414" stroke-width="0.22" >T of second stage (°C)</text>
<text x="442.8" y="170.5" font-size="13" fill="#000" stroke="#000" stroke-width="0.22" font-weight="bold" >c</text>
<text x="574.6" y="170.6" font-size="9.6" fill="#141414" stroke="#141414" stroke-width="0.22" >RNaseP</text>
<text x="556.2" y="178.5" font-size="10" fill="#141414" stroke="#141414" stroke-width="0.22" text-anchor="middle" >+</text>
<text x="625.7" y="175" font-size="10" fill="#141414" stroke="#141414" stroke-width="0.22" text-anchor="middle" >-</text>
<rect x="523.5" y="183.5" width="129.8" height="129.8" fill="none" stroke="#111" stroke-width="1.3" />
<line x1="587.9" y1="183.5" x2="587.9" y2="313.3" stroke="#111" stroke-width="1.3" />
<line x1="523.5" y1="248.4" x2="653.3" y2="248.4" stroke="#111" stroke-width="1.3" />
<path d="M526.60,233.00 C528.13,233.00 533.40,233.25 535.80,233.00 C538.20,232.75 539.30,232.50 541.00,231.50 C542.70,230.50 544.32,228.70 546.00,227.00 C547.68,225.30 549.43,223.38 551.10,221.30 C552.77,219.22 554.30,216.72 556.00,214.50 C557.70,212.28 559.30,210.42 561.30,208.00 C563.30,205.58 565.55,202.38 568.00,200.00 C570.45,197.62 574.67,194.75 576.00,193.70" fill="none" stroke="#e68a8a" stroke-width="1" />
<path d="M594.4,234.1 H619.6 C620.17,233.08 621.77,230.43 623.00,228.00 C624.23,225.57 625.67,222.25 627.00,219.50 C628.33,216.75 629.62,213.83 631.00,211.50 C632.38,209.17 633.88,207.33 635.30,205.50 C636.72,203.67 638.10,201.95 639.50,200.50 C640.90,199.05 643.00,197.42 643.70,196.80" fill="none" stroke="#e68a8a" stroke-width="1" />
<path d="M525.8,298.7 H536 C541,298.5 545,293 549.5,288 L551,289.5 H573.8" fill="none" stroke="#e68a8a" stroke-width="1" />
<line x1="594" y1="300.1" x2="639.6" y2="300.1" stroke="#e68a8a" stroke-width="1" />
<polygon points="552.1,223.8 549.9,227.60000000000002 554.3000000000001,227.60000000000002" fill="#c84030"/>
<polygon points="620.3,236 618.0999999999999,239.8 622.5,239.8" fill="#c84030"/>
<polygon points="551.4,291.5 549.1999999999999,295.3 553.6,295.3" fill="#c84030"/>
<polygon points="619,302.2 616.8,306.0 621.2,306.0" fill="#c84030"/>
<text x="664.1" y="221.5" font-size="10" fill="#141414" stroke="#141414" stroke-width="0.22" text-anchor="middle" >+</text>
<text x="662.2" y="291" font-size="10" fill="#141414" stroke="#141414" stroke-width="0.22" text-anchor="middle" >-</text>
<text transform="translate(675,250) rotate(90)" font-size="10" fill="#1a1a1a" stroke="#1a1a1a" stroke-width="0.22" text-anchor="middle">MPXV</text>
<text x="475.9" y="269.6" font-size="9.64" fill="#141414" stroke="#141414" stroke-width="0.22" >(a.u.)</text>
<text x="499.4" y="285" font-size="9.62" fill="#141414" stroke="#141414" stroke-width="0.22" text-anchor="end" >5000</text>
<text x="506" y="304" font-size="9.6" fill="#141414" stroke="#141414" stroke-width="0.22" text-anchor="end" >0</text>
<path d="M516.2,281.5 H511.5 V299.9 H516.2" fill="none" stroke="#111" stroke-width="1.1" />
<path d="M525.4,322.2 V326.9 H554.6 V322.2" fill="none" stroke="#111" stroke-width="1.1" />
<text x="523.8" y="338.7" font-size="9.6" fill="#141414" stroke="#141414" stroke-width="0.22" text-anchor="middle" >0</text>
<text x="553.8" y="338.7" font-size="9.6" fill="#141414" stroke="#141414" stroke-width="0.22" text-anchor="middle" >30</text>
<text x="564.6" y="338.7" font-size="9.53" fill="#141414" stroke="#141414" stroke-width="0.22" >(min)</text>
<text x="7.6" y="353.7" font-size="13" fill="#000" stroke="#000" stroke-width="0.22" font-weight="bold" >d</text>
<line x1="42.9" y1="384.2" x2="42.9" y2="508.3" stroke="#111" stroke-width="1.2" />
<line x1="35" y1="384.70000000000005" x2="42.9" y2="384.70000000000005" stroke="#111" stroke-width="1.2" />
<text x="31.2" y="388.20000000000005" font-size="9.6" fill="#141414" stroke="#141414" stroke-width="0.22" text-anchor="end" >1.0</text>
<line x1="35" y1="446.5" x2="42.9" y2="446.5" stroke="#111" stroke-width="1.2" />
<text x="31.2" y="450.0" font-size="9.6" fill="#141414" stroke="#141414" stroke-width="0.22" text-anchor="end" >0.5</text>
<line x1="35" y1="508.3" x2="42.9" y2="508.3" stroke="#111" stroke-width="1.2" />
<text x="31.2" y="511.8" font-size="9.6" fill="#141414" stroke="#141414" stroke-width="0.22" text-anchor="end" >0.0</text>
<rect x="52.2" y="406.94800000000004" width="18.4" height="101.35199999999998" fill="#96c6d4" stroke="#333" stroke-width="0.9" />
<line x1="61.400000000000006" y1="508.3" x2="61.400000000000006" y2="516.5" stroke="#111" stroke-width="1.2" />
<text x="61.400000000000006" y="528.3" font-size="9.8" fill="#141414" stroke="#141414" stroke-width="0.22" text-anchor="middle" >1000</text>
<rect x="80.30000000000001" y="425.488" width="18.4" height="82.81200000000001" fill="#96c6d4" stroke="#333" stroke-width="0.9" />
<line x1="89.50000000000001" y1="508.3" x2="89.50000000000001" y2="516.5" stroke="#111" stroke-width="1.2" />
<text x="89.50000000000001" y="528.3" font-size="9.8" fill="#141414" stroke="#141414" stroke-width="0.22" text-anchor="middle" >500</text>
<rect x="108.4" y="484.81600000000003" width="18.4" height="23.48399999999998" fill="#96c6d4" stroke="#333" stroke-width="0.9" />
<line x1="117.60000000000001" y1="508.3" x2="117.60000000000001" y2="516.5" stroke="#111" stroke-width="1.2" />
<text x="117.60000000000001" y="528.3" font-size="9.8" fill="#141414" stroke="#141414" stroke-width="0.22" text-anchor="middle" >100</text>
<rect x="136.5" y="498.41200000000003" width="18.4" height="9.887999999999977" fill="#96c6d4" stroke="#333" stroke-width="0.9" />
<line x1="145.7" y1="508.3" x2="145.7" y2="516.5" stroke="#111" stroke-width="1.2" />
<text x="145.7" y="528.3" font-size="9.8" fill="#141414" stroke="#141414" stroke-width="0.22" text-anchor="middle" >50</text>
<rect x="164.60000000000002" y="503.974" width="18.4" height="4.326000000000022" fill="#96c6d4" stroke="#333" stroke-width="0.9" />
<line x1="173.8" y1="508.3" x2="173.8" y2="516.5" stroke="#111" stroke-width="1.2" />
<text x="173.8" y="528.3" font-size="9.8" fill="#141414" stroke="#141414" stroke-width="0.22" text-anchor="middle" >10</text>
<line x1="201.89999999999998" y1="508.3" x2="201.89999999999998" y2="516.5" stroke="#111" stroke-width="1.2" />
<text x="201.89999999999998" y="528.3" font-size="9.8" fill="#141414" stroke="#141414" stroke-width="0.22" text-anchor="middle" >0</text>
<line x1="35" y1="508.3" x2="220.8" y2="508.3" stroke="#111" stroke-width="1.2" />
<line x1="43" y1="504.4" x2="220.8" y2="504.4" stroke="#222" stroke-width="1.3" stroke-dasharray="3.6,1.9"/>
<line x1="61.4" y1="391.3" x2="61.4" y2="423.2" stroke="#111" stroke-width="1.35" />
<line x1="56.4" y1="391.3" x2="66.4" y2="391.3" stroke="#111" stroke-width="1.35" />
<line x1="56.4" y1="423.2" x2="66.4" y2="423.2" stroke="#111" stroke-width="1.35" />
<line x1="89.8" y1="412.4" x2="89.8" y2="438.6" stroke="#111" stroke-width="1.35" />
<line x1="84.8" y1="412.4" x2="94.8" y2="412.4" stroke="#111" stroke-width="1.35" />
<line x1="84.8" y1="438.6" x2="94.8" y2="438.6" stroke="#111" stroke-width="1.35" />
<line x1="117.5" y1="481.4" x2="117.5" y2="488.8" stroke="#111" stroke-width="1.35" />
<line x1="112.5" y1="481.4" x2="122.5" y2="481.4" stroke="#111" stroke-width="1.35" />
<line x1="112.5" y1="488.8" x2="122.5" y2="488.8" stroke="#111" stroke-width="1.35" />
<line x1="145.6" y1="489" x2="145.6" y2="508" stroke="#111" stroke-width="1.35" />
<line x1="140.6" y1="489" x2="150.6" y2="489" stroke="#111" stroke-width="1.35" />
<line x1="140.6" y1="508" x2="150.6" y2="508" stroke="#111" stroke-width="1.35" />
<line x1="173.8" y1="501" x2="173.8" y2="503.5" stroke="#111" stroke-width="1.35" />
<line x1="170.8" y1="501" x2="176.8" y2="501" stroke="#111" stroke-width="1.35" />
<line x1="170.8" y1="503.5" x2="176.8" y2="503.5" stroke="#111" stroke-width="1.35" />
<line x1="201.9" y1="507.2" x2="201.9" y2="507.6" stroke="#111" stroke-width="1.35" />
<line x1="199.9" y1="507.2" x2="203.9" y2="507.2" stroke="#111" stroke-width="1.35" />
<line x1="199.9" y1="507.6" x2="203.9" y2="507.6" stroke="#111" stroke-width="1.35" />
<circle cx="61.4" cy="391.3" r="2.2" fill="none" stroke="#111" stroke-width="1.1" />
<circle cx="61.4" cy="407.8" r="2.2" fill="none" stroke="#111" stroke-width="1.1" />
<circle cx="61.4" cy="423.2" r="2.2" fill="none" stroke="#111" stroke-width="1.1" />
<circle cx="89.8" cy="415.3" r="2.2" fill="none" stroke="#111" stroke-width="1.1" />
<circle cx="89.8" cy="420.9" r="2.2" fill="none" stroke="#111" stroke-width="1.1" />
<circle cx="89.8" cy="440.2" r="2.2" fill="none" stroke="#111" stroke-width="1.1" />
<circle cx="113.3" cy="481.4" r="2.2" fill="none" stroke="#111" stroke-width="1.1" />
<circle cx="121.8" cy="481.4" r="2.2" fill="none" stroke="#111" stroke-width="1.1" />
<circle cx="117.5" cy="489.8" r="2.2" fill="none" stroke="#111" stroke-width="1.1" />
<circle cx="145.5" cy="487.1" r="2.2" fill="none" stroke="#111" stroke-width="1.1" />
<circle cx="141.4" cy="504.6" r="2.2" fill="none" stroke="#111" stroke-width="1.1" />
<circle cx="149.7" cy="502.1" r="2.2" fill="none" stroke="#111" stroke-width="1.1" />
<circle cx="169.3" cy="500.4" r="2.2" fill="none" stroke="#111" stroke-width="1.1" />
<circle cx="173.1" cy="502" r="2.2" fill="none" stroke="#111" stroke-width="1.1" />
<circle cx="176.9" cy="502.5" r="2.2" fill="none" stroke="#111" stroke-width="1.1" />
<circle cx="194.3" cy="507.4" r="2.2" fill="none" stroke="#111" stroke-width="1.1" />
<circle cx="201.9" cy="506.5" r="2.2" fill="none" stroke="#111" stroke-width="1.1" />
<circle cx="208.7" cy="507.4" r="2.2" fill="none" stroke="#111" stroke-width="1.1" />
<text transform="translate(10.6,450.9) rotate(-90)" font-size="8.2" fill="#1a1a1a" stroke="#1a1a1a" stroke-width="0.22" text-anchor="middle" textLength="67.7" lengthAdjust="spacingAndGlyphs">Normalized ΔF1</text>
<text x="114.7" y="544.8" font-size="9.58" fill="#141414" stroke="#141414" stroke-width="0.22" text-anchor="middle" >RNase P (copies/test)</text>
<text x="226.8" y="353.7" font-size="13" fill="#000" stroke="#000" stroke-width="0.22" font-weight="bold" >e</text>
<path d="M344.16,376.70 L343.95,376.97 L343.76,377.22 L343.60,377.46 L343.47,377.69 L343.39,377.93 L343.36,378.18 L343.37,378.45 L343.41,378.75 L343.47,379.08 L343.54,379.44 L343.60,379.82 L343.64,380.21 L343.63,380.61 L343.58,381.01 L343.47,381.37 L343.30,381.70 L343.07,381.97 L342.78,382.18 L342.45,382.32 L342.08,382.38 L341.69,382.38 L341.30,382.30 L340.90,382.18 L340.53,382.02 L340.18,381.84 L339.85,381.66 L339.56,381.50 L339.29,381.37 L339.04,381.29 L338.80,381.26 L338.56,381.29 L338.31,381.37 L338.04,381.50 L337.75,381.66 L337.42,381.84 L337.07,382.02 L336.70,382.18 L336.30,382.31 L335.91,382.38 L335.52,382.38 L335.15,382.32 L334.82,382.18 L334.53,381.97 L334.30,381.70 L334.13,381.37 L334.02,381.01 L333.97,380.61 L333.97,380.21 L334.00,379.82 L334.06,379.44 L334.13,379.08 L334.19,378.75 L334.23,378.45 L334.24,378.18 L334.21,377.93 L334.13,377.69 L334.00,377.46 L333.84,377.22 L333.65,376.97 L333.44,376.70 L333.23,376.41 L333.04,376.10 L332.88,375.76 L332.77,375.42 L332.71,375.07 L332.72,374.72 L332.79,374.39 L332.93,374.09 L333.12,373.81 L333.37,373.56 L333.65,373.36 L333.96,373.19 L334.29,373.05 L334.61,372.93 L334.93,372.83 L335.23,372.73 L335.50,372.63 L335.76,372.51 L335.99,372.38 L336.21,372.22 L336.42,372.03 L336.63,371.83 L336.84,371.61 L337.07,371.38 L337.32,371.16 L337.58,370.96 L337.86,370.79 L338.16,370.65 L338.48,370.57 L338.80,370.54 L339.12,370.57 L339.44,370.65 L339.74,370.78 L340.02,370.96 L340.28,371.16 L340.53,371.38 L340.76,371.60 L340.97,371.83 L341.18,372.03 L341.39,372.22 L341.61,372.38 L341.84,372.51 L342.10,372.63 L342.37,372.73 L342.67,372.83 L342.99,372.93 L343.31,373.05 L343.63,373.19 L343.95,373.36 L344.23,373.56 L344.48,373.81 L344.67,374.09 L344.81,374.39 L344.88,374.72 L344.89,375.07 L344.83,375.42 L344.71,375.76 L344.56,376.10 L344.36,376.41 L344.16,376.70" fill="none" stroke="#3a7ab8" stroke-width="1.3" />
<path d="M344.16,376.70 L344.37,376.99 L344.56,377.30 L344.72,377.64 L344.83,377.98 L344.89,378.33 L344.88,378.68 L344.81,379.01 L344.67,379.31 L344.48,379.59 L344.23,379.84 L343.95,380.04 L343.64,380.21 L343.31,380.35 L342.99,380.47 L342.67,380.57 L342.37,380.67 L342.10,380.77 L341.84,380.89 L341.61,381.02 L341.39,381.18 L341.18,381.37 L340.97,381.57 L340.76,381.79 L340.53,382.02 L340.28,382.24 L340.02,382.44 L339.74,382.61 L339.44,382.75 L339.12,382.83 L338.80,382.86 L338.48,382.83 L338.16,382.75 L337.86,382.62 L337.58,382.44 L337.32,382.24 L337.07,382.02 L336.84,381.80 L336.63,381.57 L336.42,381.37 L336.21,381.18 L335.99,381.02 L335.76,380.89 L335.50,380.77 L335.23,380.67 L334.93,380.57 L334.61,380.47 L334.29,380.35 L333.97,380.21 L333.65,380.04 L333.37,379.84 L333.12,379.59 L332.93,379.31 L332.79,379.01 L332.72,378.68 L332.71,378.33 L332.77,377.98 L332.89,377.64 L333.04,377.30 L333.24,376.99 L333.44,376.70 L333.65,376.43 L333.84,376.18 L334.00,375.94 L334.13,375.71 L334.21,375.47 L334.24,375.22 L334.23,374.95 L334.19,374.65 L334.13,374.32 L334.06,373.96 L334.00,373.58 L333.96,373.19 L333.97,372.79 L334.02,372.39 L334.13,372.03 L334.30,371.70 L334.53,371.43 L334.82,371.22 L335.15,371.08 L335.52,371.02 L335.91,371.02 L336.30,371.10 L336.70,371.22 L337.07,371.38 L337.42,371.56 L337.75,371.74 L338.04,371.90 L338.31,372.03 L338.56,372.11 L338.80,372.14 L339.04,372.11 L339.29,372.03 L339.56,371.90 L339.85,371.74 L340.18,371.56 L340.53,371.38 L340.90,371.22 L341.30,371.09 L341.69,371.02 L342.08,371.02 L342.45,371.08 L342.78,371.22 L343.07,371.43 L343.30,371.70 L343.47,372.03 L343.58,372.39 L343.63,372.79 L343.63,373.19 L343.60,373.58 L343.54,373.96 L343.47,374.32 L343.41,374.65 L343.37,374.95 L343.36,375.22 L343.39,375.47 L343.47,375.71 L343.60,375.94 L343.76,376.18 L343.95,376.43 L344.16,376.70" fill="none" stroke="#de5058" stroke-width="1.3" />
<path d="M344.16,376.70 L343.95,376.97 L343.76,377.22 L343.60,377.46 L343.47,377.69 L343.39,377.93 L343.36,378.18" fill="none" stroke="#3a7ab8" stroke-width="1.3" />
<path d="M342.45,382.32 L342.08,382.38 L341.69,382.38 L341.30,382.30 L340.90,382.18 L340.53,382.02 L340.18,381.84 L339.85,381.66 L339.56,381.50 L339.29,381.37 L339.04,381.29 L338.80,381.26" fill="none" stroke="#3a7ab8" stroke-width="1.3" />
<path d="M334.53,381.97 L334.30,381.70 L334.13,381.37 L334.02,381.01 L333.97,380.61 L333.97,380.21 L334.00,379.82 L334.06,379.44 L334.13,379.08 L334.19,378.75 L334.23,378.45 L334.24,378.18" fill="none" stroke="#3a7ab8" stroke-width="1.3" />
<path d="M332.79,374.39 L332.93,374.09 L333.12,373.81 L333.37,373.56 L333.65,373.36 L333.96,373.19 L334.29,373.05 L334.61,372.93 L334.93,372.83 L335.23,372.73 L335.50,372.63" fill="none" stroke="#3a7ab8" stroke-width="1.3" />
<path d="M339.12,370.57 L339.44,370.65 L339.74,370.78 L340.02,370.96 L340.28,371.16 L340.53,371.38 L340.76,371.60 L340.97,371.83 L341.18,372.03 L341.39,372.22 L341.61,372.38" fill="none" stroke="#3a7ab8" stroke-width="1.3" />
<path d="M344.89,375.07 L344.83,375.42 L344.71,375.76 L344.56,376.10 L344.36,376.41 L344.16,376.70" fill="none" stroke="#3a7ab8" stroke-width="1.3" />
<path d="M360.26,375.50 L360.05,375.77 L359.86,376.02 L359.70,376.26 L359.57,376.49 L359.49,376.73 L359.46,376.98 L359.47,377.25 L359.51,377.55 L359.57,377.88 L359.64,378.24 L359.70,378.62 L359.74,379.01 L359.73,379.41 L359.68,379.81 L359.57,380.17 L359.40,380.50 L359.17,380.77 L358.88,380.98 L358.55,381.12 L358.18,381.18 L357.79,381.18 L357.40,381.10 L357.00,380.98 L356.63,380.82 L356.28,380.64 L355.95,380.46 L355.66,380.30 L355.39,380.17 L355.14,380.09 L354.90,380.06 L354.66,380.09 L354.41,380.17 L354.14,380.30 L353.85,380.46 L353.52,380.64 L353.17,380.82 L352.80,380.98 L352.40,381.11 L352.01,381.18 L351.62,381.18 L351.25,381.12 L350.92,380.98 L350.63,380.77 L350.40,380.50 L350.23,380.17 L350.12,379.81 L350.07,379.41 L350.07,379.01 L350.10,378.62 L350.16,378.24 L350.23,377.88 L350.29,377.55 L350.33,377.25 L350.34,376.98 L350.31,376.73 L350.23,376.49 L350.10,376.26 L349.94,376.02 L349.75,375.77 L349.54,375.50 L349.33,375.21 L349.14,374.90 L348.98,374.56 L348.87,374.22 L348.81,373.87 L348.82,373.52 L348.89,373.19 L349.03,372.89 L349.22,372.61 L349.47,372.36 L349.75,372.16 L350.06,371.99 L350.39,371.85 L350.71,371.73 L351.03,371.63 L351.33,371.53 L351.60,371.43 L351.86,371.31 L352.09,371.18 L352.31,371.02 L352.52,370.83 L352.73,370.63 L352.94,370.41 L353.17,370.18 L353.42,369.96 L353.68,369.76 L353.96,369.59 L354.26,369.45 L354.58,369.37 L354.90,369.34 L355.22,369.37 L355.54,369.45 L355.84,369.58 L356.12,369.76 L356.38,369.96 L356.63,370.18 L356.86,370.40 L357.07,370.63 L357.28,370.83 L357.49,371.02 L357.71,371.18 L357.94,371.31 L358.20,371.43 L358.47,371.53 L358.77,371.63 L359.09,371.73 L359.41,371.85 L359.73,371.99 L360.05,372.16 L360.33,372.36 L360.58,372.61 L360.77,372.89 L360.91,373.19 L360.98,373.52 L360.99,373.87 L360.93,374.22 L360.81,374.56 L360.66,374.90 L360.46,375.21 L360.26,375.50" fill="none" stroke="#3a7ab8" stroke-width="1.3" />
<path d="M360.26,375.50 L360.47,375.79 L360.66,376.10 L360.82,376.44 L360.93,376.78 L360.99,377.13 L360.98,377.48 L360.91,377.81 L360.77,378.11 L360.58,378.39 L360.33,378.64 L360.05,378.84 L359.74,379.01 L359.41,379.15 L359.09,379.27 L358.77,379.37 L358.47,379.47 L358.20,379.57 L357.94,379.69 L357.71,379.82 L357.49,379.98 L357.28,380.17 L357.07,380.37 L356.86,380.59 L356.63,380.82 L356.38,381.04 L356.12,381.24 L355.84,381.41 L355.54,381.55 L355.22,381.63 L354.90,381.66 L354.58,381.63 L354.26,381.55 L353.96,381.42 L353.68,381.24 L353.42,381.04 L353.17,380.82 L352.94,380.60 L352.73,380.37 L352.52,380.17 L352.31,379.98 L352.09,379.82 L351.86,379.69 L351.60,379.57 L351.33,379.47 L351.03,379.37 L350.71,379.27 L350.39,379.15 L350.07,379.01 L349.75,378.84 L349.47,378.64 L349.22,378.39 L349.03,378.11 L348.89,377.81 L348.82,377.48 L348.81,377.13 L348.87,376.78 L348.99,376.44 L349.14,376.10 L349.34,375.79 L349.54,375.50 L349.75,375.23 L349.94,374.98 L350.10,374.74 L350.23,374.51 L350.31,374.27 L350.34,374.02 L350.33,373.75 L350.29,373.45 L350.23,373.12 L350.16,372.76 L350.10,372.38 L350.06,371.99 L350.07,371.59 L350.12,371.19 L350.23,370.83 L350.40,370.50 L350.63,370.23 L350.92,370.02 L351.25,369.88 L351.62,369.82 L352.01,369.82 L352.40,369.90 L352.80,370.02 L353.17,370.18 L353.52,370.36 L353.85,370.54 L354.14,370.70 L354.41,370.83 L354.66,370.91 L354.90,370.94 L355.14,370.91 L355.39,370.83 L355.66,370.70 L355.95,370.54 L356.28,370.36 L356.63,370.18 L357.00,370.02 L357.40,369.89 L357.79,369.82 L358.18,369.82 L358.55,369.88 L358.88,370.02 L359.17,370.23 L359.40,370.50 L359.57,370.83 L359.68,371.19 L359.73,371.59 L359.73,371.99 L359.70,372.38 L359.64,372.76 L359.57,373.12 L359.51,373.45 L359.47,373.75 L359.46,374.02 L359.49,374.27 L359.57,374.51 L359.70,374.74 L359.86,374.98 L360.05,375.23 L360.26,375.50" fill="none" stroke="#de5058" stroke-width="1.3" />
<path d="M360.26,375.50 L360.05,375.77 L359.86,376.02 L359.70,376.26 L359.57,376.49 L359.49,376.73 L359.46,376.98" fill="none" stroke="#3a7ab8" stroke-width="1.3" />
<path d="M358.55,381.12 L358.18,381.18 L357.79,381.18 L357.40,381.10 L357.00,380.98 L356.63,380.82 L356.28,380.64 L355.95,380.46 L355.66,380.30 L355.39,380.17 L355.14,380.09 L354.90,380.06" fill="none" stroke="#3a7ab8" stroke-width="1.3" />
<path d="M350.63,380.77 L350.40,380.50 L350.23,380.17 L350.12,379.81 L350.07,379.41 L350.07,379.01 L350.10,378.62 L350.16,378.24 L350.23,377.88 L350.29,377.55 L350.33,377.25 L350.34,376.98" fill="none" stroke="#3a7ab8" stroke-width="1.3" />
<path d="M348.89,373.19 L349.03,372.89 L349.22,372.61 L349.47,372.36 L349.75,372.16 L350.06,371.99 L350.39,371.85 L350.71,371.73 L351.03,371.63 L351.33,371.53 L351.60,371.43" fill="none" stroke="#3a7ab8" stroke-width="1.3" />
<path d="M355.22,369.37 L355.54,369.45 L355.84,369.58 L356.12,369.76 L356.38,369.96 L356.63,370.18 L356.86,370.40 L357.07,370.63 L357.28,370.83 L357.49,371.02 L357.71,371.18" fill="none" stroke="#3a7ab8" stroke-width="1.3" />
<path d="M360.99,373.87 L360.93,374.22 L360.81,374.56 L360.66,374.90 L360.46,375.21 L360.26,375.50" fill="none" stroke="#3a7ab8" stroke-width="1.3" />
<path d="M352.47,386.60 L352.26,386.86 L352.07,387.10 L351.91,387.33 L351.79,387.55 L351.71,387.78 L351.67,388.02 L351.68,388.28 L351.72,388.57 L351.79,388.89 L351.86,389.23 L351.92,389.60 L351.97,389.99 L351.97,390.38 L351.92,390.76 L351.82,391.12 L351.66,391.44 L351.44,391.71 L351.16,391.91 L350.84,392.05 L350.48,392.11 L350.10,392.09 L349.71,392.02 L349.33,391.90 L348.97,391.73 L348.63,391.55 L348.31,391.37 L348.03,391.21 L347.77,391.08 L347.53,391.00 L347.30,390.97 L347.07,391.00 L346.83,391.08 L346.57,391.21 L346.29,391.37 L345.97,391.55 L345.63,391.73 L345.27,391.90 L344.89,392.02 L344.50,392.10 L344.12,392.11 L343.76,392.05 L343.44,391.91 L343.16,391.71 L342.94,391.44 L342.78,391.12 L342.68,390.76 L342.63,390.38 L342.63,389.99 L342.68,389.60 L342.74,389.23 L342.81,388.89 L342.88,388.57 L342.92,388.28 L342.93,388.02 L342.89,387.78 L342.81,387.55 L342.69,387.33 L342.53,387.10 L342.34,386.86 L342.13,386.60 L341.92,386.32 L341.73,386.01 L341.57,385.69 L341.46,385.36 L341.40,385.02 L341.40,384.68 L341.48,384.36 L341.61,384.07 L341.80,383.80 L342.05,383.57 L342.33,383.37 L342.63,383.21 L342.95,383.08 L343.27,382.97 L343.58,382.88 L343.87,382.79 L344.14,382.69 L344.38,382.58 L344.61,382.45 L344.81,382.29 L345.01,382.11 L345.21,381.91 L345.42,381.69 L345.63,381.47 L345.87,381.25 L346.12,381.05 L346.39,380.87 L346.68,380.74 L346.99,380.66 L347.30,380.63 L347.61,380.66 L347.92,380.74 L348.21,380.87 L348.48,381.04 L348.73,381.25 L348.97,381.47 L349.18,381.69 L349.39,381.91 L349.59,382.11 L349.79,382.29 L350.00,382.45 L350.22,382.58 L350.46,382.69 L350.73,382.79 L351.02,382.88 L351.33,382.97 L351.65,383.08 L351.97,383.21 L352.27,383.37 L352.55,383.57 L352.79,383.80 L352.99,384.07 L353.12,384.36 L353.19,384.68 L353.20,385.02 L353.14,385.36 L353.03,385.69 L352.87,386.01 L352.68,386.32 L352.47,386.60" fill="none" stroke="#3a7ab8" stroke-width="1.3" />
<path d="M352.47,386.60 L352.68,386.88 L352.87,387.19 L353.03,387.51 L353.14,387.84 L353.20,388.18 L353.20,388.52 L353.12,388.84 L352.99,389.13 L352.80,389.40 L352.55,389.63 L352.27,389.83 L351.97,389.99 L351.65,390.12 L351.33,390.23 L351.02,390.32 L350.73,390.41 L350.46,390.51 L350.22,390.62 L349.99,390.75 L349.79,390.91 L349.59,391.09 L349.39,391.29 L349.18,391.51 L348.97,391.73 L348.73,391.95 L348.48,392.15 L348.21,392.33 L347.92,392.46 L347.61,392.54 L347.30,392.57 L346.99,392.54 L346.68,392.46 L346.39,392.33 L346.12,392.16 L345.87,391.95 L345.63,391.73 L345.42,391.51 L345.21,391.29 L345.01,391.09 L344.81,390.91 L344.60,390.75 L344.38,390.62 L344.14,390.51 L343.87,390.41 L343.58,390.32 L343.27,390.23 L342.95,390.12 L342.63,389.99 L342.33,389.83 L342.05,389.63 L341.81,389.40 L341.61,389.13 L341.48,388.84 L341.41,388.52 L341.40,388.18 L341.46,387.84 L341.57,387.51 L341.73,387.19 L341.92,386.88 L342.13,386.60 L342.34,386.34 L342.53,386.10 L342.69,385.87 L342.81,385.65 L342.89,385.42 L342.93,385.18 L342.92,384.92 L342.88,384.63 L342.81,384.31 L342.74,383.97 L342.68,383.60 L342.63,383.21 L342.63,382.82 L342.68,382.44 L342.78,382.08 L342.94,381.76 L343.16,381.49 L343.44,381.29 L343.76,381.15 L344.12,381.09 L344.50,381.11 L344.89,381.18 L345.27,381.30 L345.63,381.47 L345.97,381.65 L346.29,381.83 L346.57,381.99 L346.83,382.12 L347.07,382.20 L347.30,382.23 L347.53,382.20 L347.77,382.12 L348.03,381.99 L348.31,381.83 L348.63,381.65 L348.97,381.47 L349.33,381.30 L349.71,381.18 L350.10,381.10 L350.48,381.09 L350.84,381.15 L351.16,381.29 L351.44,381.49 L351.66,381.76 L351.82,382.08 L351.92,382.44 L351.97,382.82 L351.97,383.21 L351.92,383.60 L351.86,383.97 L351.79,384.31 L351.72,384.63 L351.68,384.92 L351.67,385.18 L351.71,385.42 L351.79,385.65 L351.91,385.87 L352.07,386.10 L352.26,386.34 L352.47,386.60" fill="none" stroke="#de5058" stroke-width="1.3" />
<path d="M352.47,386.60 L352.26,386.86 L352.07,387.10 L351.91,387.33 L351.79,387.55 L351.71,387.78 L351.67,388.02" fill="none" stroke="#3a7ab8" stroke-width="1.3" />
<path d="M350.84,392.05 L350.48,392.11 L350.10,392.09 L349.71,392.02 L349.33,391.90 L348.97,391.73 L348.63,391.55 L348.31,391.37 L348.03,391.21 L347.77,391.08 L347.53,391.00 L347.30,390.97" fill="none" stroke="#3a7ab8" stroke-width="1.3" />
<path d="M343.16,391.71 L342.94,391.44 L342.78,391.12 L342.68,390.76 L342.63,390.38 L342.63,389.99 L342.68,389.60 L342.74,389.23 L342.81,388.89 L342.88,388.57 L342.92,388.28 L342.93,388.02" fill="none" stroke="#3a7ab8" stroke-width="1.3" />
<path d="M341.48,384.36 L341.61,384.07 L341.80,383.80 L342.05,383.57 L342.33,383.37 L342.63,383.21 L342.95,383.08 L343.27,382.97 L343.58,382.88 L343.87,382.79 L344.14,382.69" fill="none" stroke="#3a7ab8" stroke-width="1.3" />
<path d="M347.61,380.66 L347.92,380.74 L348.21,380.87 L348.48,381.04 L348.73,381.25 L348.97,381.47 L349.18,381.69 L349.39,381.91 L349.59,382.11 L349.79,382.29 L350.00,382.45" fill="none" stroke="#3a7ab8" stroke-width="1.3" />
<path d="M353.20,385.02 L353.14,385.36 L353.03,385.69 L352.87,386.01 L352.68,386.32 L352.47,386.60" fill="none" stroke="#3a7ab8" stroke-width="1.3" />
<text x="375.6" y="381.8" font-size="10" fill="#141414" stroke="#141414" stroke-width="0.22" >MPXV plasmid</text>
<path d="M336.3,383.5 C327,387 320,395 315.5,404" fill="none" stroke="#333" stroke-width="0.9" />
<polygon points="313.7,408.8 313.6,401.5 319.5,404.4" fill="#222"/>
<g transform="translate(285.6,401.2) rotate(45)"><rect x="-11.3" y="-1" width="22.6" height="2" rx="1" fill="#e4ecee" stroke="#9fb3b9" stroke-width="0.7"/><rect x="-7" y="-5.8" width="15" height="4.8" rx="1.5" fill="#e4ecee" stroke="#9fb3b9" stroke-width="0.7"/></g>
<path d="M293.3,408.8 Q296,412 300.3,412" fill="none" stroke="#9fb3b9" stroke-width="1.1" />
<path d="M300.8,413 V441.5 L308.5,469 Q309.8,471.5 311.1,469 L318.3,441.5 V413 Z" fill="#e6eef0" stroke="#9fb3b9" stroke-width="0.9" />
<path d="M300.8,441.5 L308.5,469 Q309.8,471.5 311.1,469 L318.3,441.5 Z" fill="#cfe2ef" stroke="#9fc1da" stroke-width="0.9" />
<line x1="301" y1="440.5" x2="318" y2="440.5" stroke="#9fc1da" stroke-width="0.8" />
<rect x="300" y="410.8" width="19.5" height="2.6" fill="#dbe5e8" stroke="#9fb3b9" stroke-width="0.7" />
<line x1="312.8" y1="417.2" x2="317.3" y2="417.2" stroke="#9ab" stroke-width="0.7" />
<line x1="312.8" y1="428.8" x2="317.3" y2="428.8" stroke="#9ab" stroke-width="0.7" />
<text x="294.8" y="463.9" font-size="10" fill="#141414" stroke="#141414" stroke-width="0.22" text-anchor="end" >Host DNA</text>
<text x="337.5" y="424.7" font-size="10" fill="#141414" stroke="#141414" stroke-width="0.22" >Serial spike-in</text>
<polygon points="331.2,437.8 345.4,437.8 344.2,441.4 334.5,441.4" fill="#d5e0e3" stroke="#9fb3b9" stroke-width="0.6"/>
<path d="M334.5,441.4 V455 L338.2,469.3 Q338.9,471 339.59999999999997,469.3 L344.09999999999997,455 V441.4 Z" fill="#e6eef0" stroke="#9fb3b9" stroke-width="0.7" />
<path d="M334.5,455.2 L338.2,469.3 Q338.9,471 339.59999999999997,469.3 L344.09999999999997,455.2 Z" fill="#f5a9ab" stroke="none" stroke-width="1" />
<line x1="341.8" y1="448" x2="343.7" y2="448" stroke="#9ab" stroke-width="0.5" />
<polygon points="351,437.8 365.2,437.8 364,441.4 354.3,441.4" fill="#d5e0e3" stroke="#9fb3b9" stroke-width="0.6"/>
<path d="M354.3,441.4 V455 L358,469.3 Q358.7,471 359.4,469.3 L363.9,455 V441.4 Z" fill="#e6eef0" stroke="#9fb3b9" stroke-width="0.7" />
<path d="M354.3,455.2 L358,469.3 Q358.7,471 359.4,469.3 L363.9,455.2 Z" fill="#f6cfd0" stroke="none" stroke-width="1" />
<line x1="361.6" y1="448" x2="363.5" y2="448" stroke="#9ab" stroke-width="0.5" />
<polygon points="392.6,437.8 406.8,437.8 405.6,441.4 395.90000000000003,441.4" fill="#d5e0e3" stroke="#9fb3b9" stroke-width="0.6"/>
<path d="M395.90000000000003,441.4 V455 L399.6,469.3 Q400.3,471 401.0,469.3 L405.5,455 V441.4 Z" fill="#e6eef0" stroke="#9fb3b9" stroke-width="0.7" />
<path d="M395.90000000000003,455.2 L399.6,469.3 Q400.3,471 401.0,469.3 L405.5,455.2 Z" fill="#f9e3e3" stroke="none" stroke-width="1" />
<line x1="403.20000000000005" y1="448" x2="405.1" y2="448" stroke="#9ab" stroke-width="0.5" />
<circle cx="367.5" cy="456.8" r="0.8" fill="#222" stroke="none" stroke-width="1" />
<circle cx="370.5" cy="456.8" r="0.8" fill="#222" stroke="none" stroke-width="1" />
<circle cx="373.5" cy="456.8" r="0.8" fill="#222" stroke="none" stroke-width="1" />
<circle cx="376.5" cy="456.8" r="0.8" fill="#222" stroke="none" stroke-width="1" />
<circle cx="379.5" cy="456.8" r="0.8" fill="#222" stroke="none" stroke-width="1" />
<circle cx="382.5" cy="456.8" r="0.8" fill="#222" stroke="none" stroke-width="1" />
<circle cx="432.8" cy="450.2" r="16.3" fill="#e9f0f8" stroke="#555" stroke-width="0.8" />
<line x1="407.3" y1="463.2" x2="416.6" y2="446.4" stroke="#555" stroke-width="0.75" stroke-dasharray="2,1.5"/>
<line x1="407.3" y1="463.8" x2="427.5" y2="464.8" stroke="#555" stroke-width="0.75" stroke-dasharray="2,1.5"/>
<path d="M426,439 Q428.5,443 431,440 T436,440 T441,441 T444,442" fill="none" stroke="#3a78c0" stroke-width="1.2" />
<path d="M426,442 Q428.5,438 431,441 T436,441 T441,440 T444,440" fill="none" stroke="#de5058" stroke-width="1.2" />
<path d="M438.01,455.80 L437.60,456.08 L437.23,456.32 L436.98,456.54 L436.88,456.77 L436.93,457.04 L437.10,457.36 L437.34,457.74 L437.60,458.16 L437.78,458.59 L437.85,459.01 L437.77,459.35 L437.53,459.60 L437.15,459.73 L436.68,459.75 L436.18,459.68 L435.70,459.58 L435.29,459.49 L434.98,459.49 L434.77,459.60 L434.64,459.85 L434.56,460.24 L434.49,460.72 L434.39,461.23 L434.22,461.72 L433.99,462.10 L433.69,462.32 L433.34,462.36 L432.97,462.21 L432.62,461.91 L432.30,461.51 L432.02,461.10 L431.78,460.73 L431.56,460.48 L431.33,460.38 L431.06,460.43 L430.74,460.60 L430.36,460.84 L429.94,461.10 L429.51,461.28 L429.09,461.35 L428.75,461.27 L428.50,461.03 L428.37,460.65 L428.35,460.18 L428.42,459.68 L428.52,459.20 L428.61,458.79 L428.61,458.48 L428.50,458.27 L428.25,458.14 L427.86,458.06 L427.38,457.99 L426.87,457.89 L426.38,457.72 L426.00,457.49 L425.78,457.19 L425.74,456.84 L425.89,456.47 L426.19,456.12 L426.59,455.80 L427.00,455.52 L427.37,455.28 L427.62,455.06 L427.72,454.83 L427.67,454.56 L427.50,454.24 L427.26,453.86 L427.00,453.44 L426.82,453.01 L426.75,452.59 L426.83,452.25 L427.07,452.00 L427.45,451.87 L427.92,451.85 L428.42,451.92 L428.90,452.02 L429.31,452.11 L429.62,452.11 L429.83,452.00 L429.96,451.75 L430.04,451.36 L430.11,450.88 L430.21,450.37 L430.38,449.88 L430.61,449.50 L430.91,449.28 L431.26,449.24 L431.63,449.39 L431.98,449.69 L432.30,450.09 L432.58,450.50 L432.82,450.87 L433.04,451.12 L433.27,451.22 L433.54,451.17 L433.86,451.00 L434.24,450.76 L434.66,450.50 L435.09,450.32 L435.51,450.25 L435.85,450.33 L436.10,450.57 L436.23,450.95 L436.25,451.42 L436.18,451.92 L436.08,452.40 L435.99,452.81 L435.99,453.12 L436.10,453.33 L436.35,453.46 L436.74,453.54 L437.22,453.61 L437.73,453.71 L438.22,453.88 L438.60,454.11 L438.82,454.41 L438.86,454.76 L438.71,455.13 L438.41,455.48 L438.01,455.80" fill="none" stroke="#3a7ab8" stroke-width="1.15" />
<path d="M438.01,455.80 L438.41,456.12 L438.71,456.47 L438.86,456.84 L438.82,457.19 L438.60,457.49 L438.22,457.72 L437.73,457.89 L437.22,457.99 L436.74,458.06 L436.35,458.14 L436.10,458.27 L435.99,458.48 L435.99,458.79 L436.08,459.20 L436.18,459.68 L436.25,460.18 L436.23,460.65 L436.10,461.03 L435.85,461.27 L435.51,461.35 L435.09,461.28 L434.66,461.10 L434.24,460.84 L433.86,460.60 L433.54,460.43 L433.27,460.38 L433.04,460.48 L432.82,460.73 L432.58,461.10 L432.30,461.51 L431.98,461.91 L431.63,462.21 L431.26,462.36 L430.91,462.32 L430.61,462.10 L430.38,461.72 L430.21,461.23 L430.11,460.72 L430.04,460.24 L429.96,459.85 L429.83,459.60 L429.62,459.49 L429.31,459.49 L428.90,459.58 L428.42,459.68 L427.92,459.75 L427.45,459.73 L427.07,459.60 L426.83,459.35 L426.75,459.01 L426.82,458.59 L427.00,458.16 L427.26,457.74 L427.50,457.36 L427.67,457.04 L427.72,456.77 L427.62,456.54 L427.37,456.32 L427.00,456.08 L426.59,455.80 L426.19,455.48 L425.89,455.13 L425.74,454.76 L425.78,454.41 L426.00,454.11 L426.38,453.88 L426.87,453.71 L427.38,453.61 L427.86,453.54 L428.25,453.46 L428.50,453.33 L428.61,453.12 L428.61,452.81 L428.52,452.40 L428.42,451.92 L428.35,451.42 L428.37,450.95 L428.50,450.57 L428.75,450.33 L429.09,450.25 L429.51,450.32 L429.94,450.50 L430.36,450.76 L430.74,451.00 L431.06,451.17 L431.33,451.22 L431.56,451.12 L431.78,450.87 L432.02,450.50 L432.30,450.09 L432.62,449.69 L432.97,449.39 L433.34,449.24 L433.69,449.28 L433.99,449.50 L434.22,449.88 L434.39,450.37 L434.49,450.88 L434.56,451.36 L434.64,451.75 L434.77,452.00 L434.98,452.11 L435.29,452.11 L435.70,452.02 L436.18,451.92 L436.68,451.85 L437.15,451.87 L437.53,452.00 L437.77,452.25 L437.85,452.59 L437.78,453.01 L437.60,453.44 L437.34,453.86 L437.10,454.24 L436.93,454.56 L436.88,454.83 L436.98,455.06 L437.23,455.28 L437.60,455.52 L438.01,455.80" fill="none" stroke="#de5058" stroke-width="1.15" />
<path d="M438.01,455.80 L437.60,456.08 L437.23,456.32 L436.98,456.54" fill="none" stroke="#3a7ab8" stroke-width="1.15" />
<path d="M437.53,459.60 L437.15,459.73 L436.68,459.75 L436.18,459.68 L435.70,459.58 L435.29,459.49 L434.98,459.49" fill="none" stroke="#3a7ab8" stroke-width="1.15" />
<path d="M433.34,462.36 L432.97,462.21 L432.62,461.91 L432.30,461.51 L432.02,461.10 L431.78,460.73 L431.56,460.48" fill="none" stroke="#3a7ab8" stroke-width="1.15" />
<path d="M428.50,461.03 L428.37,460.65 L428.35,460.18 L428.42,459.68 L428.52,459.20 L428.61,458.79 L428.61,458.48" fill="none" stroke="#3a7ab8" stroke-width="1.15" />
<path d="M425.74,456.84 L425.89,456.47 L426.19,456.12 L426.59,455.80 L427.00,455.52 L427.37,455.28 L427.62,455.06" fill="none" stroke="#3a7ab8" stroke-width="1.15" />
<path d="M427.07,452.00 L427.45,451.87 L427.92,451.85 L428.42,451.92 L428.90,452.02 L429.31,452.11 L429.62,452.11" fill="none" stroke="#3a7ab8" stroke-width="1.15" />
<path d="M431.26,449.24 L431.63,449.39 L431.98,449.69 L432.30,450.09 L432.58,450.50 L432.82,450.87 L433.04,451.12" fill="none" stroke="#3a7ab8" stroke-width="1.15" />
<path d="M436.10,450.57 L436.23,450.95 L436.25,451.42 L436.18,451.92 L436.08,452.40 L435.99,452.81 L435.99,453.12" fill="none" stroke="#3a7ab8" stroke-width="1.15" />
<path d="M438.86,454.76 L438.71,455.13 L438.41,455.48 L438.01,455.80" fill="none" stroke="#3a7ab8" stroke-width="1.15" />
<defs><linearGradient id="pg" x1="0" x2="1" y1="0" y2="0"><stop offset="0" stop-color="#fcdcdc"/><stop offset="1" stop-color="#fff3f3"/></linearGradient></defs>
<polygon points="313.5,472.3 402.8,485.4 313.5,485.4" fill="url(#pg)"/>
<line x1="365.4" y1="486.4" x2="365.4" y2="506" stroke="#111" stroke-width="1" />
<polygon points="365.4,512.0 362.2,505.5 368.6,505.5" fill="#111"/>
<text x="309.3" y="523.8" font-size="10.13" fill="#141414" stroke="#141414" stroke-width="0.22" >TRACE multiplex detection</text>
<rect x="507" y="361.4" width="23.1" height="2.8" fill="#2c3a40" stroke="#1e272b" stroke-width="0.5" />
<text x="542.7" y="366.6" font-size="10" fill="#141414" stroke="#141414" stroke-width="0.22" >RNaseP</text>
<rect x="605.3" y="361.4" width="23.7" height="2.8" fill="#4a3030" stroke="#2e2020" stroke-width="0.5" />
<text x="641.6" y="367" font-size="10" fill="#141414" stroke="#141414" stroke-width="0.22" >MPXV</text>
<text x="530.2" y="385.3" font-size="9.5" fill="#d0605f" stroke="#d0605f" stroke-width="0.22" text-anchor="middle" >20/20</text>
<text x="575.2" y="385.3" font-size="9.5" fill="#d0605f" stroke="#d0605f" stroke-width="0.22" text-anchor="middle" >19/20</text>
<text x="619.5" y="385.3" font-size="9.5" fill="#d0605f" stroke="#d0605f" stroke-width="0.22" text-anchor="middle" >15/20</text>
<text x="662.4" y="385.3" font-size="9.5" fill="#d0605f" stroke="#d0605f" stroke-width="0.22" text-anchor="middle" >0/20</text>
<line x1="516.4" y1="396" x2="516.4" y2="520.3" stroke="#111" stroke-width="1.2" />
<line x1="508.2" y1="396.29999999999995" x2="516.4" y2="396.29999999999995" stroke="#111" stroke-width="1.2" />
<text x="505" y="399.79999999999995" font-size="9.7" fill="#141414" stroke="#141414" stroke-width="0.22" text-anchor="end" >1.0</text>
<line x1="508.2" y1="458.29999999999995" x2="516.4" y2="458.29999999999995" stroke="#111" stroke-width="1.2" />
<text x="505" y="461.79999999999995" font-size="9.7" fill="#141414" stroke="#141414" stroke-width="0.22" text-anchor="end" >0.5</text>
<line x1="508.2" y1="520.3" x2="516.4" y2="520.3" stroke="#111" stroke-width="1.2" />
<text x="505" y="523.8" font-size="9.7" fill="#141414" stroke="#141414" stroke-width="0.22" text-anchor="end" >0.0</text>
<rect x="522.2" y="453.9599999999999" width="10" height="66.34000000000003" fill="#a0cddc" stroke="#111" stroke-width="1.25" />
<rect x="538.3000000000001" y="442.55199999999996" width="10.2" height="77.74799999999999" fill="#e4a5a8" stroke="#111" stroke-width="1.25" />
<line x1="534.7" y1="520.3" x2="534.7" y2="528.7" stroke="#111" stroke-width="1.2" />
<rect x="564.8" y="450.85999999999996" width="10" height="69.44" fill="#a0cddc" stroke="#111" stroke-width="1.25" />
<rect x="580.9" y="476.15599999999995" width="10.2" height="44.144000000000005" fill="#e4a5a8" stroke="#111" stroke-width="1.25" />
<line x1="577.3" y1="520.3" x2="577.3" y2="528.7" stroke="#111" stroke-width="1.2" />
<rect x="607.8" y="452.59599999999995" width="10" height="67.70400000000001" fill="#a0cddc" stroke="#111" stroke-width="1.25" />
<rect x="623.9" y="485.20799999999997" width="10.2" height="35.091999999999985" fill="#e4a5a8" stroke="#111" stroke-width="1.25" />
<line x1="620.3" y1="520.3" x2="620.3" y2="528.7" stroke="#111" stroke-width="1.2" />
<rect x="650.7" y="452.09999999999997" width="10" height="68.19999999999999" fill="#a0cddc" stroke="#111" stroke-width="1.25" />
<line x1="663.2" y1="520.3" x2="663.2" y2="528.7" stroke="#111" stroke-width="1.2" />
<line x1="508.2" y1="520.3" x2="683" y2="520.3" stroke="#111" stroke-width="1.2" />
<line x1="517" y1="516.1" x2="683" y2="516.1" stroke="#333" stroke-width="1.4" stroke-dasharray="3.6,1.9"/>
<text x="534.7" y="540.1" font-size="9.7" fill="#141414" stroke="#141414" stroke-width="0.22" text-anchor="middle" >20</text>
<text x="577.3" y="540.1" font-size="9.7" fill="#141414" stroke="#141414" stroke-width="0.22" text-anchor="middle" >10</text>
<text x="620.3" y="540.1" font-size="9.7" fill="#141414" stroke="#141414" stroke-width="0.22" text-anchor="middle" >5</text>
<text x="663.2" y="540.1" font-size="9.7" fill="#141414" stroke="#141414" stroke-width="0.22" text-anchor="middle" >0</text>
<text x="599.2" y="551.8" font-size="9.6" fill="#141414" stroke="#141414" stroke-width="0.22" text-anchor="middle" >MPXV (copies/test)</text>
<text transform="translate(477.9,456) rotate(-90)" font-size="8.2" fill="#1a1a1a" stroke="#1a1a1a" stroke-width="0.22" text-anchor="middle" textLength="98.3" lengthAdjust="spacingAndGlyphs">Normalized ΔF1 or ΔF2</text>
<line x1="527" y1="417.5" x2="527" y2="491" stroke="#111" stroke-width="1" />
<line x1="524" y1="417.5" x2="530" y2="417.5" stroke="#111" stroke-width="1" />
<line x1="524" y1="491" x2="530" y2="491" stroke="#111" stroke-width="1" />
<line x1="543" y1="415.7" x2="543" y2="470" stroke="#111" stroke-width="1" />
<line x1="540" y1="415.7" x2="546" y2="415.7" stroke="#111" stroke-width="1" />
<line x1="540" y1="470" x2="546" y2="470" stroke="#111" stroke-width="1" />
<line x1="569.6" y1="421" x2="569.6" y2="472.8" stroke="#111" stroke-width="1" />
<line x1="566.6" y1="421" x2="572.6" y2="421" stroke="#111" stroke-width="1" />
<line x1="566.6" y1="472.8" x2="572.6" y2="472.8" stroke="#111" stroke-width="1" />
<line x1="585.6" y1="459.5" x2="585.6" y2="493" stroke="#111" stroke-width="1" />
<line x1="582.6" y1="459.5" x2="588.6" y2="459.5" stroke="#111" stroke-width="1" />
<line x1="582.6" y1="493" x2="588.6" y2="493" stroke="#111" stroke-width="1" />
<line x1="612.3" y1="427.8" x2="612.3" y2="470.7" stroke="#111" stroke-width="1" />
<line x1="609.3" y1="427.8" x2="615.3" y2="427.8" stroke="#111" stroke-width="1" />
<line x1="609.3" y1="470.7" x2="615.3" y2="470.7" stroke="#111" stroke-width="1" />
<line x1="628.3" y1="475.5" x2="628.3" y2="510.6" stroke="#111" stroke-width="1" />
<line x1="625.3" y1="475.5" x2="631.3" y2="475.5" stroke="#111" stroke-width="1" />
<line x1="625.3" y1="510.6" x2="631.3" y2="510.6" stroke="#111" stroke-width="1" />
<line x1="655" y1="438" x2="655" y2="466" stroke="#111" stroke-width="1" />
<line x1="652" y1="438" x2="658" y2="438" stroke="#111" stroke-width="1" />
<line x1="652" y1="466" x2="658" y2="466" stroke="#111" stroke-width="1" />
<circle cx="523.4" cy="400" r="2.35" fill="none" stroke="#111" stroke-width="1.15" />
<circle cx="526.9" cy="401.8" r="2.35" fill="none" stroke="#111" stroke-width="1.15" />
<circle cx="530.2" cy="396.5" r="2.35" fill="none" stroke="#111" stroke-width="1.15" />
<circle cx="525.2" cy="417.5" r="2.35" fill="none" stroke="#111" stroke-width="1.15" />
<circle cx="528.6" cy="418.3" r="2.35" fill="none" stroke="#111" stroke-width="1.15" />
<circle cx="527" cy="423.6" r="2.35" fill="none" stroke="#111" stroke-width="1.15" />
<circle cx="527" cy="437.2" r="2.35" fill="none" stroke="#111" stroke-width="1.15" />
<circle cx="527" cy="443.5" r="2.35" fill="none" stroke="#111" stroke-width="1.15" />
<circle cx="525.1" cy="457.3" r="2.35" fill="none" stroke="#111" stroke-width="1.15" />
<circle cx="528.3" cy="457.3" r="2.35" fill="none" stroke="#111" stroke-width="1.15" />
<circle cx="526.8" cy="465.2" r="2.35" fill="none" stroke="#111" stroke-width="1.15" />
<circle cx="524" cy="473.1" r="2.35" fill="none" stroke="#111" stroke-width="1.15" />
<circle cx="529" cy="474.2" r="2.35" fill="none" stroke="#111" stroke-width="1.15" />
<circle cx="523" cy="483.2" r="2.35" fill="none" stroke="#111" stroke-width="1.15" />
<circle cx="531" cy="482.5" r="2.35" fill="none" stroke="#111" stroke-width="1.15" />
<circle cx="527" cy="480.4" r="2.35" fill="none" stroke="#111" stroke-width="1.15" />
<circle cx="525" cy="488.9" r="2.35" fill="none" stroke="#111" stroke-width="1.15" />
<circle cx="528.5" cy="491.1" r="2.35" fill="none" stroke="#111" stroke-width="1.15" />
<circle cx="527" cy="505.2" r="2.35" fill="none" stroke="#111" stroke-width="1.15" />
<circle cx="530" cy="478" r="2.35" fill="none" stroke="#111" stroke-width="1.15" />
<circle cx="543.1" cy="396.5" r="2.35" fill="none" stroke="#111" stroke-width="1.15" />
<circle cx="541.5" cy="402.4" r="2.35" fill="none" stroke="#111" stroke-width="1.15" />
<circle cx="544.5" cy="402" r="2.35" fill="none" stroke="#111" stroke-width="1.15" />
<circle cx="543" cy="410" r="2.35" fill="none" stroke="#111" stroke-width="1.15" />
<circle cx="543" cy="422" r="2.35" fill="none" stroke="#111" stroke-width="1.15" />
<circle cx="541.5" cy="430.4" r="2.35" fill="none" stroke="#111" stroke-width="1.15" />
<circle cx="545" cy="431.5" r="2.35" fill="none" stroke="#111" stroke-width="1.15" />
<circle cx="542" cy="435.1" r="2.35" fill="none" stroke="#111" stroke-width="1.15" />
<circle cx="539.5" cy="441.4" r="2.35" fill="none" stroke="#111" stroke-width="1.15" />
<circle cx="543" cy="442.5" r="2.35" fill="none" stroke="#111" stroke-width="1.15" />
<circle cx="546.5" cy="443.5" r="2.35" fill="none" stroke="#111" stroke-width="1.15" />
<circle cx="543" cy="455.1" r="2.35" fill="none" stroke="#111" stroke-width="1.15" />
<circle cx="543" cy="461.3" r="2.35" fill="none" stroke="#111" stroke-width="1.15" />
<circle cx="543" cy="466.9" r="2.35" fill="none" stroke="#111" stroke-width="1.15" />
<circle cx="541.5" cy="474.8" r="2.35" fill="none" stroke="#111" stroke-width="1.15" />
<circle cx="545" cy="474.8" r="2.35" fill="none" stroke="#111" stroke-width="1.15" />
<circle cx="543" cy="481.5" r="2.35" fill="none" stroke="#111" stroke-width="1.15" />
<circle cx="543" cy="490" r="2.35" fill="none" stroke="#111" stroke-width="1.15" />
<circle cx="541" cy="446" r="2.35" fill="none" stroke="#111" stroke-width="1.15" />
<circle cx="545.5" cy="449" r="2.35" fill="none" stroke="#111" stroke-width="1.15" />
<circle cx="569.8" cy="416.3" r="2.35" fill="none" stroke="#111" stroke-width="1.15" />
<circle cx="567.5" cy="421" r="2.35" fill="none" stroke="#111" stroke-width="1.15" />
<circle cx="571.5" cy="422.3" r="2.35" fill="none" stroke="#111" stroke-width="1.15" />
<circle cx="565.2" cy="427.1" r="2.35" fill="none" stroke="#111" stroke-width="1.15" />
<circle cx="569.6" cy="427.5" r="2.35" fill="none" stroke="#111" stroke-width="1.15" />
<circle cx="569.6" cy="434.6" r="2.35" fill="none" stroke="#111" stroke-width="1.15" />
<circle cx="565.5" cy="438.3" r="2.35" fill="none" stroke="#111" stroke-width="1.15" />
<circle cx="573.5" cy="438.6" r="2.35" fill="none" stroke="#111" stroke-width="1.15" />
<circle cx="569.6" cy="440.4" r="2.35" fill="none" stroke="#111" stroke-width="1.15" />
<circle cx="572.8" cy="448.8" r="2.35" fill="none" stroke="#111" stroke-width="1.15" />
<circle cx="565.8" cy="454" r="2.35" fill="none" stroke="#111" stroke-width="1.15" />
<circle cx="569.6" cy="455" r="2.35" fill="none" stroke="#111" stroke-width="1.15" />
<circle cx="573.5" cy="462" r="2.35" fill="none" stroke="#111" stroke-width="1.15" />
<circle cx="565.8" cy="467.2" r="2.35" fill="none" stroke="#111" stroke-width="1.15" />
<circle cx="570.6" cy="465.5" r="2.35" fill="none" stroke="#111" stroke-width="1.15" />
<circle cx="573" cy="468.1" r="2.35" fill="none" stroke="#111" stroke-width="1.15" />
<circle cx="572.5" cy="477.6" r="2.35" fill="none" stroke="#111" stroke-width="1.15" />
<circle cx="569" cy="480.2" r="2.35" fill="none" stroke="#111" stroke-width="1.15" />
<circle cx="573" cy="482.5" r="2.35" fill="none" stroke="#111" stroke-width="1.15" />
<circle cx="566.5" cy="486" r="2.35" fill="none" stroke="#111" stroke-width="1.15" />
<circle cx="585.3" cy="448.3" r="2.35" fill="none" stroke="#111" stroke-width="1.15" />
<circle cx="587.5" cy="447.5" r="2.35" fill="none" stroke="#111" stroke-width="1.15" />
<circle cx="583" cy="468" r="2.35" fill="none" stroke="#111" stroke-width="1.15" />
<circle cx="588" cy="468" r="2.35" fill="none" stroke="#111" stroke-width="1.15" />
<circle cx="585" cy="464" r="2.35" fill="none" stroke="#111" stroke-width="1.15" />
<circle cx="583" cy="472" r="2.35" fill="none" stroke="#111" stroke-width="1.15" />
<circle cx="588" cy="472" r="2.35" fill="none" stroke="#111" stroke-width="1.15" />
<circle cx="581" cy="474" r="2.35" fill="none" stroke="#111" stroke-width="1.15" />
<circle cx="586" cy="477" r="2.35" fill="none" stroke="#111" stroke-width="1.15" />
<circle cx="584" cy="481" r="2.35" fill="none" stroke="#111" stroke-width="1.15" />
<circle cx="585.5" cy="489" r="2.35" fill="none" stroke="#111" stroke-width="1.15" />
<circle cx="585.5" cy="493" r="2.35" fill="none" stroke="#111" stroke-width="1.15" />
<circle cx="584" cy="496" r="2.35" fill="none" stroke="#111" stroke-width="1.15" />
<circle cx="585.5" cy="503" r="2.35" fill="none" stroke="#111" stroke-width="1.15" />
<circle cx="585.5" cy="516.5" r="2.35" fill="none" stroke="#111" stroke-width="1.15" />
<circle cx="587" cy="465" r="2.35" fill="none" stroke="#111" stroke-width="1.15" />
<circle cx="584" cy="466" r="2.35" fill="none" stroke="#111" stroke-width="1.15" />
<circle cx="586.5" cy="470" r="2.35" fill="none" stroke="#111" stroke-width="1.15" />
<circle cx="583.5" cy="476" r="2.35" fill="none" stroke="#111" stroke-width="1.15" />
<circle cx="588" cy="474" r="2.35" fill="none" stroke="#111" stroke-width="1.15" />
<circle cx="612.3" cy="410.5" r="2.35" fill="none" stroke="#111" stroke-width="1.15" />
<circle cx="609" cy="414.7" r="2.35" fill="none" stroke="#111" stroke-width="1.15" />
<circle cx="615.7" cy="417" r="2.35" fill="none" stroke="#111" stroke-width="1.15" />
<circle cx="612.2" cy="420.5" r="2.35" fill="none" stroke="#111" stroke-width="1.15" />
<circle cx="612" cy="429.4" r="2.35" fill="none" stroke="#111" stroke-width="1.15" />
<circle cx="609" cy="434.1" r="2.35" fill="none" stroke="#111" stroke-width="1.15" />
<circle cx="615.7" cy="436.5" r="2.35" fill="none" stroke="#111" stroke-width="1.15" />
<circle cx="612.3" cy="438.3" r="2.35" fill="none" stroke="#111" stroke-width="1.15" />
<circle cx="612" cy="435.7" r="2.35" fill="none" stroke="#111" stroke-width="1.15" />
<circle cx="609.5" cy="455" r="2.35" fill="none" stroke="#111" stroke-width="1.15" />
<circle cx="615" cy="456" r="2.35" fill="none" stroke="#111" stroke-width="1.15" />
<circle cx="612" cy="460" r="2.35" fill="none" stroke="#111" stroke-width="1.15" />
<circle cx="609" cy="461" r="2.35" fill="none" stroke="#111" stroke-width="1.15" />
<circle cx="615" cy="461" r="2.35" fill="none" stroke="#111" stroke-width="1.15" />
<circle cx="612.5" cy="466.6" r="2.35" fill="none" stroke="#111" stroke-width="1.15" />
<circle cx="609" cy="478.1" r="2.35" fill="none" stroke="#111" stroke-width="1.15" />
<circle cx="615.5" cy="476.5" r="2.35" fill="none" stroke="#111" stroke-width="1.15" />
<circle cx="612.5" cy="480.2" r="2.35" fill="none" stroke="#111" stroke-width="1.15" />
<circle cx="615.5" cy="480.7" r="2.35" fill="none" stroke="#111" stroke-width="1.15" />
<circle cx="612.2" cy="485.4" r="2.35" fill="none" stroke="#111" stroke-width="1.15" />
<circle cx="612.2" cy="488.6" r="2.35" fill="none" stroke="#111" stroke-width="1.15" />
<circle cx="628" cy="444.1" r="2.35" fill="none" stroke="#111" stroke-width="1.15" />
<circle cx="629.5" cy="443" r="2.35" fill="none" stroke="#111" stroke-width="1.15" />
<circle cx="628.5" cy="456.7" r="2.35" fill="none" stroke="#111" stroke-width="1.15" />
<circle cx="627.5" cy="459.3" r="2.35" fill="none" stroke="#111" stroke-width="1.15" />
<circle cx="626" cy="465.1" r="2.35" fill="none" stroke="#111" stroke-width="1.15" />
<circle cx="629" cy="466.7" r="2.35" fill="none" stroke="#111" stroke-width="1.15" />
<circle cx="628" cy="457.1" r="2.35" fill="none" stroke="#111" stroke-width="1.15" />
<circle cx="627" cy="469.2" r="2.35" fill="none" stroke="#111" stroke-width="1.15" />
<circle cx="629" cy="470.2" r="2.35" fill="none" stroke="#111" stroke-width="1.15" />
<circle cx="628" cy="475.5" r="2.35" fill="none" stroke="#111" stroke-width="1.15" />
<circle cx="628" cy="488.6" r="2.35" fill="none" stroke="#111" stroke-width="1.15" />
<circle cx="627" cy="496.5" r="2.35" fill="none" stroke="#111" stroke-width="1.15" />
<circle cx="629" cy="495.4" r="2.35" fill="none" stroke="#111" stroke-width="1.15" />
<circle cx="628" cy="499.6" r="2.35" fill="none" stroke="#111" stroke-width="1.15" />
<circle cx="628" cy="502.8" r="2.35" fill="none" stroke="#111" stroke-width="1.15" />
<circle cx="628" cy="506.4" r="2.35" fill="none" stroke="#111" stroke-width="1.15" />
<circle cx="626" cy="518" r="2.35" fill="none" stroke="#111" stroke-width="1.15" />
<circle cx="630" cy="519" r="2.35" fill="none" stroke="#111" stroke-width="1.15" />
<circle cx="625" cy="520" r="2.35" fill="none" stroke="#111" stroke-width="1.15" />
<circle cx="631" cy="521" r="2.35" fill="none" stroke="#111" stroke-width="1.15" />
<circle cx="653.8" cy="426.4" r="2.35" fill="none" stroke="#111" stroke-width="1.15" />
<circle cx="656.5" cy="429" r="2.35" fill="none" stroke="#111" stroke-width="1.15" />
<circle cx="653.5" cy="432.1" r="2.35" fill="none" stroke="#111" stroke-width="1.15" />
<circle cx="651.5" cy="435.9" r="2.35" fill="none" stroke="#111" stroke-width="1.15" />
<circle cx="656.5" cy="436.7" r="2.35" fill="none" stroke="#111" stroke-width="1.15" />
<circle cx="658" cy="442.4" r="2.35" fill="none" stroke="#111" stroke-width="1.15" />
<circle cx="654" cy="441" r="2.35" fill="none" stroke="#111" stroke-width="1.15" />
<circle cx="651.5" cy="446.2" r="2.35" fill="none" stroke="#111" stroke-width="1.15" />
<circle cx="655" cy="445.9" r="2.35" fill="none" stroke="#111" stroke-width="1.15" />
<circle cx="653" cy="451" r="2.35" fill="none" stroke="#111" stroke-width="1.15" />
<circle cx="658" cy="451" r="2.35" fill="none" stroke="#111" stroke-width="1.15" />
<circle cx="655" cy="458.3" r="2.35" fill="none" stroke="#111" stroke-width="1.15" />
<circle cx="655" cy="466.9" r="2.35" fill="none" stroke="#111" stroke-width="1.15" />
<circle cx="653" cy="473.4" r="2.35" fill="none" stroke="#111" stroke-width="1.15" />
<circle cx="657" cy="473.4" r="2.35" fill="none" stroke="#111" stroke-width="1.15" />
<circle cx="655" cy="483.3" r="2.35" fill="none" stroke="#111" stroke-width="1.15" />
<circle cx="655" cy="498.8" r="2.35" fill="none" stroke="#111" stroke-width="1.15" />
<circle cx="652" cy="451.5" r="2.35" fill="none" stroke="#111" stroke-width="1.15" />
<circle cx="656" cy="452" r="2.35" fill="none" stroke="#111" stroke-width="1.15" />
<circle cx="659" cy="452" r="2.35" fill="none" stroke="#111" stroke-width="1.15" />
<circle cx="667.0" cy="518.5" r="2.2" fill="#111" stroke="none" stroke-width="1" />
<circle cx="668.4" cy="520.3" r="2.2" fill="#111" stroke="none" stroke-width="1" />
<circle cx="669.8" cy="519.1" r="2.2" fill="#111" stroke="none" stroke-width="1" />
<circle cx="671.2" cy="520.9" r="2.2" fill="#111" stroke="none" stroke-width="1" />
<circle cx="672.6" cy="519.7" r="2.2" fill="#111" stroke="none" stroke-width="1" />
<circle cx="674.0" cy="518.5" r="2.2" fill="#111" stroke="none" stroke-width="1" />
<circle cx="675.4" cy="520.3" r="2.2" fill="#111" stroke="none" stroke-width="1" />
<circle cx="667.0" cy="519.1" r="2.2" fill="#111" stroke="none" stroke-width="1" />
<circle cx="668.4" cy="520.9" r="2.2" fill="#111" stroke="none" stroke-width="1" />
<circle cx="669.8" cy="519.7" r="2.2" fill="#111" stroke="none" stroke-width="1" />
<circle cx="671.2" cy="518.5" r="2.2" fill="#111" stroke="none" stroke-width="1" />
<circle cx="672.6" cy="520.3" r="2.2" fill="#111" stroke="none" stroke-width="1" />
<circle cx="674.0" cy="519.1" r="2.2" fill="#111" stroke="none" stroke-width="1" />
<circle cx="675.4" cy="520.9" r="2.2" fill="#111" stroke="none" stroke-width="1" />
<circle cx="667.0" cy="519.7" r="2.2" fill="#111" stroke="none" stroke-width="1" />
<circle cx="668.4" cy="518.5" r="2.2" fill="#111" stroke="none" stroke-width="1" />
<circle cx="669.8" cy="520.3" r="2.2" fill="#111" stroke="none" stroke-width="1" />
<circle cx="671.2" cy="519.1" r="2.2" fill="#111" stroke="none" stroke-width="1" />
<circle cx="672.6" cy="520.9" r="2.2" fill="#111" stroke="none" stroke-width="1" />
<circle cx="674.0" cy="519.7" r="2.2" fill="#111" stroke="none" stroke-width="1" />
<text x="7.6" y="582.3" font-size="13" fill="#000" stroke="#000" stroke-width="0.22" font-weight="bold" >f</text>
<text x="196.8" y="578.6" font-size="9.5" fill="#141414" stroke="#141414" stroke-width="0.22" text-anchor="middle" >MPXV</text>
<text x="448.6" y="578.6" font-size="9.52" fill="#141414" stroke="#141414" stroke-width="0.22" text-anchor="middle" >Non-MPXV</text>
<line x1="54.2" y1="587.8" x2="323.7" y2="587.8" stroke="#111" stroke-width="1.1" />
<line x1="334.7" y1="587.8" x2="580.5" y2="587.8" stroke="#111" stroke-width="1.1" />
<rect x="51.1" y="615.6" width="23.13" height="23.9" fill="#e8abab" stroke="#111" stroke-width="1.1" />
<rect x="51.1" y="639.5" width="23.13" height="22.9" fill="#dc8a8d" stroke="#111" stroke-width="1.1" />
<line x1="62.665" y1="610.9" x2="62.665" y2="615.6" stroke="#111" stroke-width="1.1" />
<text x="62.665" y="605.2" font-size="9.5" fill="#141414" stroke="#141414" stroke-width="0.22" text-anchor="middle" >1</text>
<rect x="74.23" y="615.6" width="23.13" height="23.9" fill="#e4a4a6" stroke="#111" stroke-width="1.1" />
<rect x="74.23" y="639.5" width="23.13" height="22.9" fill="#e8aeae" stroke="#111" stroke-width="1.1" />
<line x1="85.795" y1="610.9" x2="85.795" y2="615.6" stroke="#111" stroke-width="1.1" />
<text x="85.795" y="605.2" font-size="9.5" fill="#141414" stroke="#141414" stroke-width="0.22" text-anchor="middle" >2</text>
<rect x="97.36" y="615.6" width="23.13" height="23.9" fill="#e8aeae" stroke="#111" stroke-width="1.1" />
<rect x="97.36" y="639.5" width="23.13" height="22.9" fill="#e5a6a8" stroke="#111" stroke-width="1.1" />
<line x1="108.925" y1="610.9" x2="108.925" y2="615.6" stroke="#111" stroke-width="1.1" />
<text x="108.925" y="605.2" font-size="9.5" fill="#141414" stroke="#141414" stroke-width="0.22" text-anchor="middle" >3</text>
<rect x="120.49000000000001" y="615.6" width="23.13" height="23.9" fill="#e9b3b4" stroke="#111" stroke-width="1.1" />
<rect x="120.49000000000001" y="639.5" width="23.13" height="22.9" fill="#db878a" stroke="#111" stroke-width="1.1" />
<line x1="132.055" y1="610.9" x2="132.055" y2="615.6" stroke="#111" stroke-width="1.1" />
<text x="132.055" y="605.2" font-size="9.5" fill="#141414" stroke="#141414" stroke-width="0.22" text-anchor="middle" >4</text>
<rect x="143.62" y="615.6" width="23.13" height="23.9" fill="#f7e8e8" stroke="#111" stroke-width="1.1" />
<rect x="143.62" y="639.5" width="23.13" height="22.9" fill="#ececec" stroke="#111" stroke-width="1.1" />
<line x1="155.185" y1="610.9" x2="155.185" y2="615.6" stroke="#111" stroke-width="1.1" />
<text x="155.185" y="605.2" font-size="9.5" fill="#141414" stroke="#141414" stroke-width="0.22" text-anchor="middle" >5</text>
<rect x="166.75" y="615.6" width="23.13" height="23.9" fill="#d46f72" stroke="#111" stroke-width="1.1" />
<rect x="166.75" y="639.5" width="23.13" height="22.9" fill="#f0cfd0" stroke="#111" stroke-width="1.1" />
<line x1="178.315" y1="610.9" x2="178.315" y2="615.6" stroke="#111" stroke-width="1.1" />
<text x="178.315" y="605.2" font-size="9.5" fill="#141414" stroke="#141414" stroke-width="0.22" text-anchor="middle" >6</text>
<rect x="189.88" y="615.6" width="23.13" height="23.9" fill="#e5a4a6" stroke="#111" stroke-width="1.1" />
<rect x="189.88" y="639.5" width="23.13" height="22.9" fill="#df9396" stroke="#111" stroke-width="1.1" />
<line x1="201.445" y1="610.9" x2="201.445" y2="615.6" stroke="#111" stroke-width="1.1" />
<text x="201.445" y="605.2" font-size="9.5" fill="#141414" stroke="#141414" stroke-width="0.22" text-anchor="middle" >7</text>
<rect x="213.01" y="615.6" width="23.13" height="23.9" fill="#ebb6b7" stroke="#111" stroke-width="1.1" />
<rect x="213.01" y="639.5" width="23.13" height="22.9" fill="#d46d70" stroke="#111" stroke-width="1.1" />
<line x1="224.575" y1="610.9" x2="224.575" y2="615.6" stroke="#111" stroke-width="1.1" />
<text x="224.575" y="605.2" font-size="9.5" fill="#141414" stroke="#141414" stroke-width="0.22" text-anchor="middle" >8</text>
<rect x="236.14" y="615.6" width="23.13" height="23.9" fill="#e6a8aa" stroke="#111" stroke-width="1.1" />
<rect x="236.14" y="639.5" width="23.13" height="22.9" fill="#e29c9e" stroke="#111" stroke-width="1.1" />
<line x1="247.70499999999998" y1="610.9" x2="247.70499999999998" y2="615.6" stroke="#111" stroke-width="1.1" />
<text x="247.70499999999998" y="605.2" font-size="9.5" fill="#141414" stroke="#141414" stroke-width="0.22" text-anchor="middle" >9</text>
<rect x="259.27" y="615.6" width="23.13" height="23.9" fill="#e09698" stroke="#111" stroke-width="1.1" />
<rect x="259.27" y="639.5" width="23.13" height="22.9" fill="#df9497" stroke="#111" stroke-width="1.1" />
<line x1="270.835" y1="610.9" x2="270.835" y2="615.6" stroke="#111" stroke-width="1.1" />
<text x="270.835" y="605.2" font-size="9.5" fill="#141414" stroke="#141414" stroke-width="0.22" text-anchor="middle" >10</text>
<rect x="282.4" y="615.6" width="23.13" height="23.9" fill="#d97f82" stroke="#111" stroke-width="1.1" />
<rect x="282.4" y="639.5" width="23.13" height="22.9" fill="#e6a9ab" stroke="#111" stroke-width="1.1" />
<line x1="293.965" y1="610.9" x2="293.965" y2="615.6" stroke="#111" stroke-width="1.1" />
<text x="293.965" y="605.2" font-size="9.5" fill="#141414" stroke="#141414" stroke-width="0.22" text-anchor="middle" >11</text>
<rect x="305.53" y="615.6" width="23.13" height="23.9" fill="#e3a0a2" stroke="#111" stroke-width="1.1" />
<rect x="305.53" y="639.5" width="23.13" height="22.9" fill="#d87c80" stroke="#111" stroke-width="1.1" />
<line x1="317.09499999999997" y1="610.9" x2="317.09499999999997" y2="615.6" stroke="#111" stroke-width="1.1" />
<text x="317.09499999999997" y="605.2" font-size="9.5" fill="#141414" stroke="#141414" stroke-width="0.22" text-anchor="middle" >12</text>
<rect x="332.9" y="615.6" width="23.17" height="23.9" fill="#eeeeee" stroke="#111" stroke-width="1.1" />
<rect x="332.9" y="639.5" width="23.17" height="22.9" fill="#da888b" stroke="#111" stroke-width="1.1" />
<line x1="344.48499999999996" y1="610.9" x2="344.48499999999996" y2="615.6" stroke="#111" stroke-width="1.1" />
<text x="344.48499999999996" y="605.2" font-size="9.5" fill="#141414" stroke="#141414" stroke-width="0.22" text-anchor="middle" >1</text>
<rect x="356.07" y="615.6" width="23.17" height="23.9" fill="#eeeeee" stroke="#111" stroke-width="1.1" />
<rect x="356.07" y="639.5" width="23.17" height="22.9" fill="#db8b8e" stroke="#111" stroke-width="1.1" />
<line x1="367.655" y1="610.9" x2="367.655" y2="615.6" stroke="#111" stroke-width="1.1" />
<text x="367.655" y="605.2" font-size="9.5" fill="#141414" stroke="#141414" stroke-width="0.22" text-anchor="middle" >2</text>
<rect x="379.24" y="615.6" width="23.17" height="23.9" fill="#eeeeee" stroke="#111" stroke-width="1.1" />
<rect x="379.24" y="639.5" width="23.17" height="22.9" fill="#d67a7d" stroke="#111" stroke-width="1.1" />
<line x1="390.825" y1="610.9" x2="390.825" y2="615.6" stroke="#111" stroke-width="1.1" />
<text x="390.825" y="605.2" font-size="9.5" fill="#141414" stroke="#141414" stroke-width="0.22" text-anchor="middle" >3</text>
<rect x="402.40999999999997" y="615.6" width="23.17" height="23.9" fill="#eeeeee" stroke="#111" stroke-width="1.1" />
<rect x="402.40999999999997" y="639.5" width="23.17" height="22.9" fill="#e6aaac" stroke="#111" stroke-width="1.1" />
<line x1="413.99499999999995" y1="610.9" x2="413.99499999999995" y2="615.6" stroke="#111" stroke-width="1.1" />
<text x="413.99499999999995" y="605.2" font-size="9.5" fill="#141414" stroke="#141414" stroke-width="0.22" text-anchor="middle" >4</text>
<rect x="425.58" y="615.6" width="23.17" height="23.9" fill="#eeeeee" stroke="#111" stroke-width="1.1" />
<rect x="425.58" y="639.5" width="23.17" height="22.9" fill="#d46c70" stroke="#111" stroke-width="1.1" />
<line x1="437.16499999999996" y1="610.9" x2="437.16499999999996" y2="615.6" stroke="#111" stroke-width="1.1" />
<text x="437.16499999999996" y="605.2" font-size="9.5" fill="#141414" stroke="#141414" stroke-width="0.22" text-anchor="middle" >5</text>
<rect x="448.75" y="615.6" width="23.17" height="23.9" fill="#eeeeee" stroke="#111" stroke-width="1.1" />
<rect x="448.75" y="639.5" width="23.17" height="22.9" fill="#e8b0b1" stroke="#111" stroke-width="1.1" />
<line x1="460.335" y1="610.9" x2="460.335" y2="615.6" stroke="#111" stroke-width="1.1" />
<text x="460.335" y="605.2" font-size="9.5" fill="#141414" stroke="#141414" stroke-width="0.22" text-anchor="middle" >6</text>
<rect x="471.91999999999996" y="615.6" width="23.17" height="23.9" fill="#eeeeee" stroke="#111" stroke-width="1.1" />
<rect x="471.91999999999996" y="639.5" width="23.17" height="22.9" fill="#e29ea0" stroke="#111" stroke-width="1.1" />
<line x1="483.50499999999994" y1="610.9" x2="483.50499999999994" y2="615.6" stroke="#111" stroke-width="1.1" />
<text x="483.50499999999994" y="605.2" font-size="9.5" fill="#141414" stroke="#141414" stroke-width="0.22" text-anchor="middle" >7</text>
<rect x="495.09" y="615.6" width="23.17" height="23.9" fill="#eeeeee" stroke="#111" stroke-width="1.1" />
<rect x="495.09" y="639.5" width="23.17" height="22.9" fill="#ecbcbd" stroke="#111" stroke-width="1.1" />
<line x1="506.67499999999995" y1="610.9" x2="506.67499999999995" y2="615.6" stroke="#111" stroke-width="1.1" />
<text x="506.67499999999995" y="605.2" font-size="9.5" fill="#141414" stroke="#141414" stroke-width="0.22" text-anchor="middle" >8</text>
<rect x="518.26" y="615.6" width="23.17" height="23.9" fill="#eeeeee" stroke="#111" stroke-width="1.1" />
<rect x="518.26" y="639.5" width="23.17" height="22.9" fill="#ebb9ba" stroke="#111" stroke-width="1.1" />
<line x1="529.845" y1="610.9" x2="529.845" y2="615.6" stroke="#111" stroke-width="1.1" />
<text x="529.845" y="605.2" font-size="9.5" fill="#141414" stroke="#141414" stroke-width="0.22" text-anchor="middle" >9</text>
<rect x="541.4300000000001" y="615.6" width="23.17" height="23.9" fill="#eeeeee" stroke="#111" stroke-width="1.1" />
<rect x="541.4300000000001" y="639.5" width="23.17" height="22.9" fill="#df9497" stroke="#111" stroke-width="1.1" />
<line x1="553.0150000000001" y1="610.9" x2="553.0150000000001" y2="615.6" stroke="#111" stroke-width="1.1" />
<text x="553.0150000000001" y="605.2" font-size="9.5" fill="#141414" stroke="#141414" stroke-width="0.22" text-anchor="middle" >10</text>
<rect x="564.6" y="615.6" width="23.17" height="23.9" fill="#eeeeee" stroke="#111" stroke-width="1.1" />
<rect x="564.6" y="639.5" width="23.17" height="22.9" fill="#e6a9ab" stroke="#111" stroke-width="1.1" />
<line x1="576.1850000000001" y1="610.9" x2="576.1850000000001" y2="615.6" stroke="#111" stroke-width="1.1" />
<text x="576.1850000000001" y="605.2" font-size="9.5" fill="#141414" stroke="#141414" stroke-width="0.22" text-anchor="middle" >11</text>
<line x1="42.9" y1="627.8" x2="51.1" y2="627.8" stroke="#111" stroke-width="1.1" />
<line x1="42.9" y1="651.1" x2="51.1" y2="651.1" stroke="#111" stroke-width="1.1" />
<text x="38.8" y="631.3" font-size="10" fill="#141414" stroke="#141414" stroke-width="0.22" text-anchor="end" font-style="italic" >J2L</text>
<text x="38.8" y="654.2" font-size="10" fill="#141414" stroke="#141414" stroke-width="0.22" text-anchor="end" >RNase P</text>
<defs><linearGradient id="cb" x1="0" x2="0" y1="1" y2="0"><stop offset="0" stop-color="#ebebeb"/><stop offset="0.2" stop-color="#ffffff"/><stop offset="0.5" stop-color="#f1cdd0"/><stop offset="1" stop-color="#cf6d71"/></linearGradient></defs>
<rect x="608.6" y="601.1" width="13" height="61.3" fill="url(#cb)" stroke="#111" stroke-width="1.1" />
<line x1="608.6" y1="632" x2="612" y2="632" stroke="#333" stroke-width="1.2" />
<line x1="618.6" y1="632" x2="622" y2="632" stroke="#333" stroke-width="1.2" />
<text x="625.2" y="605" font-size="9.5" fill="#141414" stroke="#141414" stroke-width="0.22" >1.0</text>
<text x="625.2" y="636" font-size="9.5" fill="#141414" stroke="#141414" stroke-width="0.22" >0.5</text>
<text x="625.2" y="666.2" font-size="9.5" fill="#141414" stroke="#141414" stroke-width="0.22" >0</text>
<text transform="translate(657,628.4) rotate(90)" font-size="9.6" fill="#1a1a1a" stroke="#1a1a1a" stroke-width="0.22" text-anchor="middle" textLength="47.3" lengthAdjust="spacingAndGlyphs">Normalized</text>
<text transform="translate(646.6,628.2) rotate(90)" font-size="9.6" fill="#1a1a1a" stroke="#1a1a1a" stroke-width="0.22" text-anchor="middle" textLength="47.8" lengthAdjust="spacingAndGlyphs">ΔF1 or ΔF2</text>
</svg>
</body></html>
